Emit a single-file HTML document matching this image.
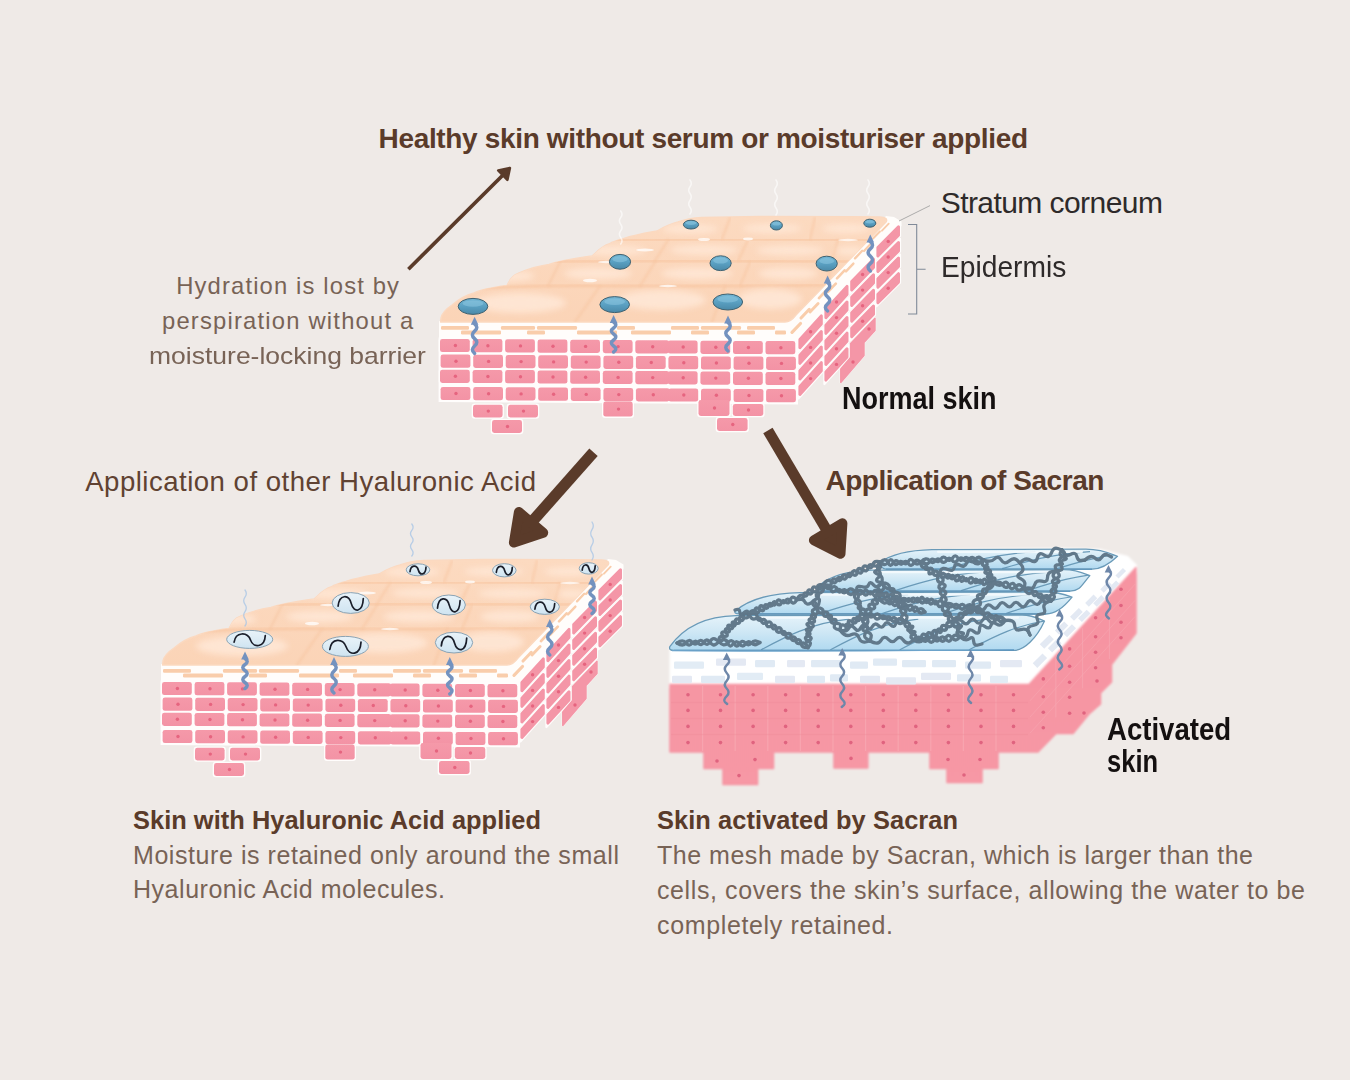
<!DOCTYPE html>
<html lang="en"><head><meta charset="utf-8"><title>Sacran skin diagram</title>
<style>
html,body{margin:0;padding:0;background:#efeae7;}
body{width:1350px;height:1080px;position:relative;overflow:hidden;font-family:"Liberation Sans",sans-serif;}
.t{position:absolute;white-space:nowrap;line-height:1;margin:0;transform-origin:0 0;}
</style></head><body>
<svg width="1350" height="1080" viewBox="0 0 1350 1080" style="position:absolute;left:0;top:0">
<defs>
<filter id="blur2" x="-20%" y="-50%" width="140%" height="200%"><feGaussianBlur stdDeviation="3"/></filter>
<filter id="blur1"><feGaussianBlur stdDeviation="0.8"/></filter>
<linearGradient id="peachA" x1="0" y1="0" x2="0" y2="1"><stop offset="0" stop-color="#fcdac0"/><stop offset="1" stop-color="#fbd4b7"/></linearGradient>
<linearGradient id="peachB" x1="0" y1="0" x2="0" y2="1"><stop offset="0" stop-color="#fcdac0"/><stop offset="1" stop-color="#fbd4b7"/></linearGradient>
<linearGradient id="pinkg" x1="0" y1="0" x2="0" y2="1"><stop offset="0" stop-color="#f599a9"/><stop offset="1" stop-color="#f393a5"/></linearGradient>
<linearGradient id="hag" x1="0" y1="0" x2="0" y2="1"><stop offset="0" stop-color="#e9f3f9"/><stop offset="1" stop-color="#cfe4f1"/></linearGradient>
<linearGradient id="drop" x1="0" y1="0" x2="0" y2="1"><stop offset="0" stop-color="#74b7d5"/><stop offset="0.5" stop-color="#5aa0c2"/><stop offset="1" stop-color="#4a89a8"/></linearGradient>
</defs>
<rect width="1350" height="1080" fill="#efeae7"/>
<g transform="translate(0 0)">
<path d="M439 321 L790 321 L886 216 L894 217 L901.5 221.5 L901.5 226 L798 341 L439 341 Z" fill="#fffdfb"/>
<path d="M440.5 322 L441 318 C442 313 446 309 452 305 C458 300 466 295 474 293 C482 289 496 287 507 285.5 C510 279 513 275 518 273.5 C528 269 538 266 549 264.5 C562 260 578 258 592 256 C598 251 602 246 609 244 C614 241 618 240 624 238.5 C634 235 646 233 657 231 C664 227 670 224 678 222 C686 219 694 218 702 217.5 L760 216.5 L850 216.6 L880 217 C885 217 888 219 886 222 L796 315 C793 319 790 322 785 322 Z" fill="url(#peachA)" stroke="#fbd9c0" stroke-width="1.4" stroke-linejoin="round"/>
<clipPath id="clipA"><path d="M440.5 322 L441 318 C442 313 446 309 452 305 C458 300 466 295 474 293 C482 289 496 287 507 285.5 C510 279 513 275 518 273.5 C528 269 538 266 549 264.5 C562 260 578 258 592 256 C598 251 602 246 609 244 C614 241 618 240 624 238.5 C634 235 646 233 657 231 C664 227 670 224 678 222 C686 219 694 218 702 217.5 L760 216.5 L850 216.6 L880 217 C885 217 888 219 886 222 L796 315 C793 319 790 322 785 322 Z"/></clipPath>
<g clip-path="url(#clipA)">
<path d="M440 290 C500 286 560 285.5 620 286 C700 286.5 760 286 830 285" fill="none" stroke="#f8c6a2" stroke-width="3" opacity="0.75" stroke-linecap="round" filter="url(#blur1)"/>
<path d="M520 262 C600 260.5 700 260.5 780 261 C820 261 850 261.5 870 261.5" fill="none" stroke="#f8c6a2" stroke-width="3" opacity="0.75" stroke-linecap="round" filter="url(#blur1)"/>
<path d="M610 240 C700 239 780 239 880 240" fill="none" stroke="#f8c6a2" stroke-width="3" opacity="0.75" stroke-linecap="round" filter="url(#blur1)"/>
<path d="M600 286 L575 322" fill="none" stroke="#f8c6a2" stroke-width="2.4" opacity="0.55" stroke-linecap="round" filter="url(#blur1)"/>
<path d="M725 286 L712 322" fill="none" stroke="#f8c6a2" stroke-width="2.4" opacity="0.55" stroke-linecap="round" filter="url(#blur1)"/>
<path d="M560 262 L548 286" fill="none" stroke="#f8c6a2" stroke-width="2.4" opacity="0.55" stroke-linecap="round" filter="url(#blur1)"/>
<path d="M655 262 L640 286" fill="none" stroke="#f8c6a2" stroke-width="2.4" opacity="0.55" stroke-linecap="round" filter="url(#blur1)"/>
<path d="M750 262 L740 286" fill="none" stroke="#f8c6a2" stroke-width="2.4" opacity="0.55" stroke-linecap="round" filter="url(#blur1)"/>
<path d="M832 262 L826 286" fill="none" stroke="#f8c6a2" stroke-width="2.4" opacity="0.55" stroke-linecap="round" filter="url(#blur1)"/>
<path d="M668 240 L655 261" fill="none" stroke="#f8c6a2" stroke-width="2.4" opacity="0.55" stroke-linecap="round" filter="url(#blur1)"/>
<path d="M748 240 L738 261" fill="none" stroke="#f8c6a2" stroke-width="2.4" opacity="0.55" stroke-linecap="round" filter="url(#blur1)"/>
<path d="M838 240 L832 261" fill="none" stroke="#f8c6a2" stroke-width="2.4" opacity="0.55" stroke-linecap="round" filter="url(#blur1)"/>
<path d="M730 218 L722 239" fill="none" stroke="#f8c6a2" stroke-width="2.4" opacity="0.55" stroke-linecap="round" filter="url(#blur1)"/>
<path d="M815 218 L810 239" fill="none" stroke="#f8c6a2" stroke-width="2.4" opacity="0.55" stroke-linecap="round" filter="url(#blur1)"/>
<ellipse cx="520" cy="303" rx="46" ry="10" fill="#fee6d4" opacity="0.95" filter="url(#blur2)"/>
<ellipse cx="662" cy="300" rx="44" ry="10" fill="#fee6d4" opacity="0.95" filter="url(#blur2)"/>
<ellipse cx="770" cy="299" rx="32" ry="10" fill="#fee6d4" opacity="0.95" filter="url(#blur2)"/>
<ellipse cx="505" cy="276" rx="30" ry="5.5" fill="#fee6d4" opacity="0.95" filter="url(#blur2)"/>
<ellipse cx="598" cy="273.5" rx="34" ry="6" fill="#fee6d4" opacity="0.95" filter="url(#blur2)"/>
<ellipse cx="697" cy="273.5" rx="36" ry="6" fill="#fee6d4" opacity="0.95" filter="url(#blur2)"/>
<ellipse cx="788" cy="273.5" rx="30" ry="6" fill="#fee6d4" opacity="0.95" filter="url(#blur2)"/>
<ellipse cx="612" cy="250.5" rx="34" ry="5" fill="#fee6d4" opacity="0.95" filter="url(#blur2)"/>
<ellipse cx="704" cy="250" rx="34" ry="5" fill="#fee6d4" opacity="0.95" filter="url(#blur2)"/>
<ellipse cx="790" cy="250.5" rx="34" ry="5" fill="#fee6d4" opacity="0.95" filter="url(#blur2)"/>
<ellipse cx="850" cy="251" rx="14" ry="4.5" fill="#fee6d4" opacity="0.95" filter="url(#blur2)"/>
<ellipse cx="690" cy="229" rx="28" ry="4.6" fill="#fee6d4" opacity="0.95" filter="url(#blur2)"/>
<ellipse cx="772" cy="228.5" rx="30" ry="4.6" fill="#fee6d4" opacity="0.95" filter="url(#blur2)"/>
<ellipse cx="846" cy="228.5" rx="24" ry="4.6" fill="#fee6d4" opacity="0.95" filter="url(#blur2)"/>
<ellipse cx="590" cy="280.5" rx="7" ry="1.7" fill="#fff" opacity="0.75"/>
<ellipse cx="645" cy="250" rx="9" ry="1.5" fill="#fff" opacity="0.75"/>
<ellipse cx="704" cy="239.5" rx="6" ry="1.6" fill="#fff" opacity="0.75"/>
<ellipse cx="748" cy="239" rx="5" ry="1.4" fill="#fff" opacity="0.75"/>
<ellipse cx="668" cy="286" rx="9" ry="1.2" fill="#fff" opacity="0.75"/>
<ellipse cx="848" cy="240" rx="10" ry="1.2" fill="#fff" opacity="0.75"/>
<ellipse cx="606" cy="262" rx="8" ry="1.2" fill="#fff" opacity="0.75"/>
</g>
<rect x="441" y="326" width="28" height="3.8" rx="1.2" fill="#f9cdab" />
<rect x="461" y="330.6" width="40" height="3.8" rx="1.2" fill="#f9cdab" />
<rect x="501" y="326" width="34" height="3.8" rx="1.2" fill="#f9cdab" />
<rect x="527" y="330.6" width="18" height="3.8" rx="1.2" fill="#f9cdab" />
<rect x="537" y="326" width="40" height="3.8" rx="1.2" fill="#f9cdab" />
<rect x="577" y="330.6" width="40" height="3.8" rx="1.2" fill="#f9cdab" />
<rect x="617" y="326" width="18" height="3.8" rx="1.2" fill="#f9cdab" />
<rect x="631" y="330.6" width="40" height="3.8" rx="1.2" fill="#f9cdab" />
<rect x="671" y="326" width="28" height="3.8" rx="1.2" fill="#f9cdab" />
<rect x="691" y="330.6" width="18" height="3.8" rx="1.2" fill="#f9cdab" />
<rect x="701" y="326" width="40" height="3.8" rx="1.2" fill="#f9cdab" />
<rect x="737" y="330.6" width="18" height="3.8" rx="1.2" fill="#f9cdab" />
<rect x="747" y="326" width="28" height="3.8" rx="1.2" fill="#f9cdab" />
<rect x="775" y="330.6" width="11" height="3.8" rx="1.2" fill="#f9cdab" />
<path d="M792 332.4 l8.5 -8.9" stroke="#f9cdab" stroke-width="3.2" stroke-linecap="round" fill="none"/>
<path d="M801 318 l8.3 -8.7" stroke="#f9cdab" stroke-width="3.1" stroke-linecap="round" fill="none"/>
<path d="M810 312 l8.1 -8.5" stroke="#f9cdab" stroke-width="2.9" stroke-linecap="round" fill="none"/>
<path d="M819 298.1 l7.9 -8.3" stroke="#f9cdab" stroke-width="2.8" stroke-linecap="round" fill="none"/>
<path d="M828 291.7 l7.8 -8.1" stroke="#f9cdab" stroke-width="2.7" stroke-linecap="round" fill="none"/>
<path d="M837 278.3 l7.6 -8" stroke="#f9cdab" stroke-width="2.6" stroke-linecap="round" fill="none"/>
<path d="M846 271.4 l7.4 -7.8" stroke="#f9cdab" stroke-width="2.4" stroke-linecap="round" fill="none"/>
<path d="M855 258.4 l7.2 -7.6" stroke="#f9cdab" stroke-width="2.3" stroke-linecap="round" fill="none"/>
<path d="M864 251 l7 -7.4" stroke="#f9cdab" stroke-width="2.2" stroke-linecap="round" fill="none"/>
<path d="M873 238.6 l6.9 -7.2" stroke="#f9cdab" stroke-width="2.1" stroke-linecap="round" fill="none"/>
<path d="M882 230.7 l6.7 -7" stroke="#f9cdab" stroke-width="1.9" stroke-linecap="round" fill="none"/>
</g>
<path d="M438.6 337.4 L798 339.6 L798 404.4 L438.6 402 Z" fill="#fffdfc"/>
<rect x="438.7" y="337.6" width="32.4" height="15.8" rx="3" fill="#fffdfc" />
<rect x="471.2" y="337.8" width="32.4" height="15.8" rx="3" fill="#fffdfc" />
<rect x="503.8" y="338" width="32.4" height="15.8" rx="3" fill="#fffdfc" />
<rect x="536.4" y="338.3" width="32.4" height="15.8" rx="3" fill="#fffdfc" />
<rect x="568.9" y="338.5" width="32.4" height="15.8" rx="3" fill="#fffdfc" />
<rect x="601.5" y="338.7" width="32.4" height="15.8" rx="3" fill="#fffdfc" />
<rect x="634" y="338.9" width="36.4" height="15.8" rx="3" fill="#fffdfc" />
<rect x="666.5" y="339.1" width="32.4" height="15.8" rx="3" fill="#fffdfc" />
<rect x="699.1" y="339.4" width="32.4" height="15.8" rx="3" fill="#fffdfc" />
<rect x="731.7" y="339.6" width="32.4" height="15.8" rx="3" fill="#fffdfc" />
<rect x="764.2" y="339.8" width="32.4" height="15.8" rx="3" fill="#fffdfc" />
<rect x="439.3" y="353.3" width="32.4" height="15.8" rx="3" fill="#fffdfc" />
<rect x="471.9" y="353.5" width="32.4" height="15.8" rx="3" fill="#fffdfc" />
<rect x="504.4" y="353.7" width="32.4" height="15.8" rx="3" fill="#fffdfc" />
<rect x="537" y="354" width="32.4" height="15.8" rx="3" fill="#fffdfc" />
<rect x="569.5" y="354.2" width="32.4" height="15.8" rx="3" fill="#fffdfc" />
<rect x="602.1" y="354.4" width="32.4" height="15.8" rx="3" fill="#fffdfc" />
<rect x="634.6" y="354.6" width="32.4" height="15.8" rx="3" fill="#fffdfc" />
<rect x="667.1" y="354.8" width="32.4" height="15.8" rx="3" fill="#fffdfc" />
<rect x="699.7" y="355.1" width="32.4" height="15.8" rx="3" fill="#fffdfc" />
<rect x="732.3" y="355.3" width="32.4" height="15.8" rx="3" fill="#fffdfc" />
<rect x="764.8" y="355.5" width="32.4" height="15.8" rx="3" fill="#fffdfc" />
<rect x="438.7" y="368.4" width="32.4" height="15.8" rx="3" fill="#fffdfc" />
<rect x="471.2" y="368.6" width="32.4" height="15.8" rx="3" fill="#fffdfc" />
<rect x="503.8" y="368.8" width="32.4" height="15.8" rx="3" fill="#fffdfc" />
<rect x="536.4" y="369.1" width="32.4" height="15.8" rx="3" fill="#fffdfc" />
<rect x="568.9" y="369.3" width="32.4" height="15.8" rx="3" fill="#fffdfc" />
<rect x="601.5" y="369.5" width="32.4" height="15.8" rx="3" fill="#fffdfc" />
<rect x="634" y="369.7" width="36.4" height="15.8" rx="3" fill="#fffdfc" />
<rect x="666.5" y="369.9" width="32.4" height="15.8" rx="3" fill="#fffdfc" />
<rect x="699.1" y="370.2" width="32.4" height="15.8" rx="3" fill="#fffdfc" />
<rect x="731.7" y="370.4" width="32.4" height="15.8" rx="3" fill="#fffdfc" />
<rect x="764.2" y="370.6" width="32.4" height="15.8" rx="3" fill="#fffdfc" />
<rect x="439.3" y="385.6" width="32.4" height="15.8" rx="3" fill="#fffdfc" />
<rect x="471.9" y="385.8" width="32.4" height="15.8" rx="3" fill="#fffdfc" />
<rect x="504.4" y="386" width="32.4" height="15.8" rx="3" fill="#fffdfc" />
<rect x="537" y="386.3" width="32.4" height="15.8" rx="3" fill="#fffdfc" />
<rect x="569.5" y="386.5" width="32.4" height="15.8" rx="3" fill="#fffdfc" />
<rect x="602.1" y="386.7" width="32.4" height="15.8" rx="3" fill="#fffdfc" />
<rect x="634.6" y="386.9" width="36.4" height="15.8" rx="3" fill="#fffdfc" />
<rect x="667.1" y="387.1" width="32.4" height="15.8" rx="3" fill="#fffdfc" />
<rect x="699.7" y="387.4" width="32.4" height="15.8" rx="3" fill="#fffdfc" />
<rect x="732.3" y="387.6" width="32.4" height="15.8" rx="3" fill="#fffdfc" />
<rect x="764.8" y="387.8" width="32.4" height="15.8" rx="3" fill="#fffdfc" />
<rect x="471.7" y="403.5" width="32.2" height="15.2" rx="3" fill="#fffdfc" />
<rect x="506.7" y="403.5" width="32.6" height="15.2" rx="3" fill="#fffdfc" />
<rect x="490.7" y="418.7" width="32.6" height="15.6" rx="3" fill="#fffdfc" />
<rect x="602" y="400.3" width="32" height="17.6" rx="3" fill="#fffdfc" />
<rect x="697.2" y="398.7" width="33.6" height="18.6" rx="3" fill="#fffdfc" />
<rect x="731.5" y="402.7" width="33.1" height="14.6" rx="3" fill="#fffdfc" />
<rect x="715.7" y="416.7" width="33.2" height="15.6" rx="3" fill="#fffdfc" />
<rect x="440" y="338.9" width="29.8" height="13.2" rx="2.4" fill="url(#pinkg)" />
<circle cx="455.4" cy="345.5" r="1.7" fill="#e6647f"/>
<rect x="472.6" y="339.1" width="29.8" height="13.2" rx="2.4" fill="url(#pinkg)" />
<circle cx="487.9" cy="345.7" r="1.7" fill="#e6647f"/>
<rect x="505.1" y="339.3" width="29.8" height="13.2" rx="2.4" fill="url(#pinkg)" />
<circle cx="520.5" cy="345.9" r="1.7" fill="#e6647f"/>
<rect x="537.6" y="339.6" width="29.8" height="13.2" rx="2.4" fill="url(#pinkg)" />
<circle cx="553" cy="346.2" r="1.7" fill="#e6647f"/>
<rect x="570.2" y="339.8" width="29.8" height="13.2" rx="2.4" fill="url(#pinkg)" />
<circle cx="585.6" cy="346.4" r="1.7" fill="#e6647f"/>
<rect x="602.8" y="340" width="29.8" height="13.2" rx="2.4" fill="url(#pinkg)" />
<circle cx="618.1" cy="346.6" r="1.7" fill="#e6647f"/>
<rect x="635.3" y="340.2" width="33.8" height="13.2" rx="2.4" fill="url(#pinkg)" />
<circle cx="652.7" cy="346.8" r="1.7" fill="#e6647f"/>
<rect x="667.8" y="340.4" width="29.8" height="13.2" rx="2.4" fill="url(#pinkg)" />
<circle cx="683.2" cy="347" r="1.7" fill="#e6647f"/>
<rect x="700.4" y="340.7" width="29.8" height="13.2" rx="2.4" fill="url(#pinkg)" />
<circle cx="715.8" cy="347.3" r="1.7" fill="#e6647f"/>
<rect x="733" y="340.9" width="29.8" height="13.2" rx="2.4" fill="url(#pinkg)" />
<circle cx="748.4" cy="347.5" r="1.7" fill="#e6647f"/>
<rect x="765.5" y="341.1" width="29.8" height="13.2" rx="2.4" fill="url(#pinkg)" />
<circle cx="780.9" cy="347.7" r="1.7" fill="#e6647f"/>
<rect x="440.6" y="354.6" width="29.8" height="13.2" rx="2.4" fill="url(#pinkg)" />
<circle cx="456" cy="361.2" r="1.7" fill="#e6647f"/>
<rect x="473.2" y="354.8" width="29.8" height="13.2" rx="2.4" fill="url(#pinkg)" />
<circle cx="488.6" cy="361.4" r="1.7" fill="#e6647f"/>
<rect x="505.7" y="355" width="29.8" height="13.2" rx="2.4" fill="url(#pinkg)" />
<circle cx="521.1" cy="361.6" r="1.7" fill="#e6647f"/>
<rect x="538.2" y="355.3" width="29.8" height="13.2" rx="2.4" fill="url(#pinkg)" />
<circle cx="553.6" cy="361.9" r="1.7" fill="#e6647f"/>
<rect x="570.8" y="355.5" width="29.8" height="13.2" rx="2.4" fill="url(#pinkg)" />
<circle cx="586.2" cy="362.1" r="1.7" fill="#e6647f"/>
<rect x="603.4" y="355.7" width="29.8" height="13.2" rx="2.4" fill="url(#pinkg)" />
<circle cx="618.8" cy="362.3" r="1.7" fill="#e6647f"/>
<rect x="635.9" y="355.9" width="29.8" height="13.2" rx="2.4" fill="url(#pinkg)" />
<circle cx="651.3" cy="362.5" r="1.7" fill="#e6647f"/>
<rect x="668.4" y="356.1" width="29.8" height="13.2" rx="2.4" fill="url(#pinkg)" />
<circle cx="683.8" cy="362.7" r="1.7" fill="#e6647f"/>
<rect x="701" y="356.4" width="29.8" height="13.2" rx="2.4" fill="url(#pinkg)" />
<circle cx="716.4" cy="363" r="1.7" fill="#e6647f"/>
<rect x="733.6" y="356.6" width="29.8" height="13.2" rx="2.4" fill="url(#pinkg)" />
<circle cx="749" cy="363.2" r="1.7" fill="#e6647f"/>
<rect x="766.1" y="356.8" width="29.8" height="13.2" rx="2.4" fill="url(#pinkg)" />
<circle cx="781.5" cy="363.4" r="1.7" fill="#e6647f"/>
<rect x="440" y="369.7" width="29.8" height="13.2" rx="2.4" fill="url(#pinkg)" />
<circle cx="455.4" cy="376.3" r="1.7" fill="#e6647f"/>
<rect x="472.6" y="369.9" width="29.8" height="13.2" rx="2.4" fill="url(#pinkg)" />
<circle cx="487.9" cy="376.5" r="1.7" fill="#e6647f"/>
<rect x="505.1" y="370.1" width="29.8" height="13.2" rx="2.4" fill="url(#pinkg)" />
<circle cx="520.5" cy="376.7" r="1.7" fill="#e6647f"/>
<rect x="537.6" y="370.4" width="29.8" height="13.2" rx="2.4" fill="url(#pinkg)" />
<circle cx="553" cy="377" r="1.7" fill="#e6647f"/>
<rect x="570.2" y="370.6" width="29.8" height="13.2" rx="2.4" fill="url(#pinkg)" />
<circle cx="585.6" cy="377.2" r="1.7" fill="#e6647f"/>
<rect x="602.8" y="370.8" width="29.8" height="13.2" rx="2.4" fill="url(#pinkg)" />
<circle cx="618.1" cy="377.4" r="1.7" fill="#e6647f"/>
<rect x="635.3" y="371" width="33.8" height="13.2" rx="2.4" fill="url(#pinkg)" />
<circle cx="652.7" cy="377.6" r="1.7" fill="#e6647f"/>
<rect x="667.8" y="371.2" width="29.8" height="13.2" rx="2.4" fill="url(#pinkg)" />
<circle cx="683.2" cy="377.8" r="1.7" fill="#e6647f"/>
<rect x="700.4" y="371.5" width="29.8" height="13.2" rx="2.4" fill="url(#pinkg)" />
<circle cx="715.8" cy="378.1" r="1.7" fill="#e6647f"/>
<rect x="733" y="371.7" width="29.8" height="13.2" rx="2.4" fill="url(#pinkg)" />
<circle cx="748.4" cy="378.3" r="1.7" fill="#e6647f"/>
<rect x="765.5" y="371.9" width="29.8" height="13.2" rx="2.4" fill="url(#pinkg)" />
<circle cx="780.9" cy="378.5" r="1.7" fill="#e6647f"/>
<rect x="440.6" y="386.9" width="29.8" height="13.2" rx="2.4" fill="url(#pinkg)" />
<circle cx="456" cy="393.5" r="1.7" fill="#e6647f"/>
<rect x="473.2" y="387.1" width="29.8" height="13.2" rx="2.4" fill="url(#pinkg)" />
<circle cx="488.6" cy="393.7" r="1.7" fill="#e6647f"/>
<rect x="505.7" y="387.3" width="29.8" height="13.2" rx="2.4" fill="url(#pinkg)" />
<circle cx="521.1" cy="393.9" r="1.7" fill="#e6647f"/>
<rect x="538.2" y="387.6" width="29.8" height="13.2" rx="2.4" fill="url(#pinkg)" />
<circle cx="553.6" cy="394.2" r="1.7" fill="#e6647f"/>
<rect x="570.8" y="387.8" width="29.8" height="13.2" rx="2.4" fill="url(#pinkg)" />
<circle cx="586.2" cy="394.4" r="1.7" fill="#e6647f"/>
<rect x="603.4" y="388" width="29.8" height="13.2" rx="2.4" fill="url(#pinkg)" />
<circle cx="618.8" cy="394.6" r="1.7" fill="#e6647f"/>
<rect x="635.9" y="388.2" width="33.8" height="13.2" rx="2.4" fill="url(#pinkg)" />
<circle cx="653.3" cy="394.8" r="1.7" fill="#e6647f"/>
<rect x="668.4" y="388.4" width="29.8" height="13.2" rx="2.4" fill="url(#pinkg)" />
<circle cx="683.8" cy="395" r="1.7" fill="#e6647f"/>
<rect x="701" y="388.7" width="29.8" height="13.2" rx="2.4" fill="url(#pinkg)" />
<circle cx="716.4" cy="395.3" r="1.7" fill="#e6647f"/>
<rect x="733.6" y="388.9" width="29.8" height="13.2" rx="2.4" fill="url(#pinkg)" />
<circle cx="749" cy="395.5" r="1.7" fill="#e6647f"/>
<rect x="766.1" y="389.1" width="29.8" height="13.2" rx="2.4" fill="url(#pinkg)" />
<circle cx="781.5" cy="395.7" r="1.7" fill="#e6647f"/>
<rect x="473" y="404.8" width="29.6" height="12.6" rx="2.4" fill="url(#pinkg)" />
<circle cx="488.3" cy="411.1" r="1.7" fill="#e6647f"/>
<rect x="508" y="404.8" width="30" height="12.6" rx="2.4" fill="url(#pinkg)" />
<circle cx="523.5" cy="411.1" r="1.7" fill="#e6647f"/>
<rect x="492" y="420" width="30" height="13" rx="2.4" fill="url(#pinkg)" />
<circle cx="507.5" cy="426.5" r="1.7" fill="#e6647f"/>
<rect x="603.3" y="401.6" width="29.4" height="15" rx="2.4" fill="url(#pinkg)" />
<circle cx="618.5" cy="409.1" r="1.7" fill="#e6647f"/>
<rect x="698.5" y="400" width="31" height="16" rx="2.4" fill="url(#pinkg)" />
<circle cx="714.5" cy="408" r="1.7" fill="#e6647f"/>
<rect x="732.8" y="404" width="30.5" height="12" rx="2.4" fill="url(#pinkg)" />
<circle cx="748.5" cy="410" r="1.7" fill="#e6647f"/>
<rect x="717" y="418" width="30.6" height="13" rx="2.4" fill="url(#pinkg)" />
<circle cx="732.8" cy="424.5" r="1.7" fill="#e6647f"/>
<path d="M798.4 339 L822.8 312 L822.8 324.6 L798.4 351.6Z" fill="#fffdfc" stroke="#fffdfc" stroke-width="2.2" stroke-linejoin="round"/>
<path d="M798.4 354.6 L822.8 327.6 L822.8 340.2 L798.4 367.2Z" fill="#fffdfc" stroke="#fffdfc" stroke-width="2.2" stroke-linejoin="round"/>
<path d="M798.4 370.2 L822.8 343.2 L822.8 355.8 L798.4 382.8Z" fill="#fffdfc" stroke="#fffdfc" stroke-width="2.2" stroke-linejoin="round"/>
<path d="M798.4 385.8 L822.8 358.8 L822.8 371.4 L798.4 398.4Z" fill="#fffdfc" stroke="#fffdfc" stroke-width="2.2" stroke-linejoin="round"/>
<path d="M824.4 309 L848.5 282.5 L848.5 295.1 L824.4 321.6Z" fill="#fffdfc" stroke="#fffdfc" stroke-width="2.2" stroke-linejoin="round"/>
<path d="M824.4 324.6 L848.5 298.1 L848.5 310.7 L824.4 337.2Z" fill="#fffdfc" stroke="#fffdfc" stroke-width="2.2" stroke-linejoin="round"/>
<path d="M824.4 340.2 L848.5 313.7 L848.5 326.3 L824.4 352.8Z" fill="#fffdfc" stroke="#fffdfc" stroke-width="2.2" stroke-linejoin="round"/>
<path d="M824.4 355.8 L848.5 329.3 L848.5 341.9 L824.4 368.4Z" fill="#fffdfc" stroke="#fffdfc" stroke-width="2.2" stroke-linejoin="round"/>
<path d="M824.4 371.4 L848.5 344.9 L848.5 357.5 L824.4 384Z" fill="#fffdfc" stroke="#fffdfc" stroke-width="2.2" stroke-linejoin="round"/>
<path d="M850.2 281 L875 255.5 L875 268.1 L850.2 293.6Z" fill="#fffdfc" stroke="#fffdfc" stroke-width="2.2" stroke-linejoin="round"/>
<path d="M850.2 296.6 L875 271.1 L875 283.7 L850.2 309.2Z" fill="#fffdfc" stroke="#fffdfc" stroke-width="2.2" stroke-linejoin="round"/>
<path d="M850.2 312.2 L875 286.7 L875 299.3 L850.2 324.8Z" fill="#fffdfc" stroke="#fffdfc" stroke-width="2.2" stroke-linejoin="round"/>
<path d="M850.2 327.8 L875 302.3 L875 314.9 L850.2 340.4Z" fill="#fffdfc" stroke="#fffdfc" stroke-width="2.2" stroke-linejoin="round"/>
<path d="M876.4 246.9 L900 223.3 L900 235.9 L876.4 259.5Z" fill="#fffdfc" stroke="#fffdfc" stroke-width="2.2" stroke-linejoin="round"/>
<path d="M876.4 262.5 L900 238.9 L900 251.5 L876.4 275.1Z" fill="#fffdfc" stroke="#fffdfc" stroke-width="2.2" stroke-linejoin="round"/>
<path d="M876.4 278.1 L900 254.5 L900 267.1 L876.4 290.7Z" fill="#fffdfc" stroke="#fffdfc" stroke-width="2.2" stroke-linejoin="round"/>
<path d="M876.4 293.7 L900 270.1 L900 282.7 L876.4 306.3Z" fill="#fffdfc" stroke="#fffdfc" stroke-width="2.2" stroke-linejoin="round"/>
<path d="M850.6 343.4 L875 318.2 L875 330.6 L864 342.6 L864 355.6 L840.8 382.4 L840.8 369 L850.6 357.6Z" fill="#fffdfc" stroke="#fffdfc" stroke-width="2.2" stroke-linejoin="round"/>
<path d="M799.9 339.6 L821.3 315.9 L821.3 324 L799.9 347.7Z" fill="#f496a7" stroke="#f496a7" stroke-width="3" stroke-linejoin="round"/>
<circle cx="810.6" cy="331.8" r="1.7" fill="#e6647f"/>
<path d="M799.9 355.2 L821.3 331.5 L821.3 339.6 L799.9 363.3Z" fill="#f496a7" stroke="#f496a7" stroke-width="3" stroke-linejoin="round"/>
<circle cx="810.6" cy="347.4" r="1.7" fill="#e6647f"/>
<path d="M799.9 370.8 L821.3 347.1 L821.3 355.2 L799.9 378.9Z" fill="#f496a7" stroke="#f496a7" stroke-width="3" stroke-linejoin="round"/>
<circle cx="810.6" cy="363" r="1.7" fill="#e6647f"/>
<path d="M799.9 386.4 L821.3 362.7 L821.3 370.8 L799.9 394.5Z" fill="#f496a7" stroke="#f496a7" stroke-width="3" stroke-linejoin="round"/>
<circle cx="810.6" cy="378.6" r="1.7" fill="#e6647f"/>
<path d="M825.9 309.6 L847 286.4 L847 294.5 L825.9 317.7Z" fill="#f496a7" stroke="#f496a7" stroke-width="3" stroke-linejoin="round"/>
<circle cx="836.5" cy="302" r="1.7" fill="#e6647f"/>
<path d="M825.9 325.2 L847 302 L847 310.1 L825.9 333.3Z" fill="#f496a7" stroke="#f496a7" stroke-width="3" stroke-linejoin="round"/>
<circle cx="836.5" cy="317.6" r="1.7" fill="#e6647f"/>
<path d="M825.9 340.8 L847 317.6 L847 325.7 L825.9 348.9Z" fill="#f496a7" stroke="#f496a7" stroke-width="3" stroke-linejoin="round"/>
<circle cx="836.5" cy="333.2" r="1.7" fill="#e6647f"/>
<path d="M825.9 356.4 L847 333.2 L847 341.3 L825.9 364.5Z" fill="#f496a7" stroke="#f496a7" stroke-width="3" stroke-linejoin="round"/>
<circle cx="836.5" cy="348.8" r="1.7" fill="#e6647f"/>
<path d="M825.9 372 L847 348.8 L847 356.9 L825.9 380.1Z" fill="#f496a7" stroke="#f496a7" stroke-width="3" stroke-linejoin="round"/>
<circle cx="836.5" cy="364.4" r="1.7" fill="#e6647f"/>
<path d="M851.7 281.6 L873.5 259.2 L873.5 267.4 L851.7 289.9Z" fill="#f496a7" stroke="#f496a7" stroke-width="3" stroke-linejoin="round"/>
<circle cx="862.6" cy="274.5" r="1.7" fill="#e6647f"/>
<path d="M851.7 297.2 L873.5 274.8 L873.5 283 L851.7 305.5Z" fill="#f496a7" stroke="#f496a7" stroke-width="3" stroke-linejoin="round"/>
<circle cx="862.6" cy="290.1" r="1.7" fill="#e6647f"/>
<path d="M851.7 312.8 L873.5 290.4 L873.5 298.6 L851.7 321.1Z" fill="#f496a7" stroke="#f496a7" stroke-width="3" stroke-linejoin="round"/>
<circle cx="862.6" cy="305.7" r="1.7" fill="#e6647f"/>
<path d="M851.7 328.4 L873.5 306 L873.5 314.2 L851.7 336.7Z" fill="#f496a7" stroke="#f496a7" stroke-width="3" stroke-linejoin="round"/>
<circle cx="862.6" cy="321.3" r="1.7" fill="#e6647f"/>
<path d="M877.9 247.5 L898.5 226.9 L898.5 235.3 L877.9 255.9Z" fill="#f496a7" stroke="#f496a7" stroke-width="3" stroke-linejoin="round"/>
<circle cx="888.2" cy="241.4" r="1.7" fill="#e6647f"/>
<path d="M877.9 263.1 L898.5 242.5 L898.5 250.9 L877.9 271.5Z" fill="#f496a7" stroke="#f496a7" stroke-width="3" stroke-linejoin="round"/>
<circle cx="888.2" cy="257" r="1.7" fill="#e6647f"/>
<path d="M877.9 278.7 L898.5 258.1 L898.5 266.5 L877.9 287.1Z" fill="#f496a7" stroke="#f496a7" stroke-width="3" stroke-linejoin="round"/>
<circle cx="888.2" cy="272.6" r="1.7" fill="#e6647f"/>
<path d="M877.9 294.3 L898.5 273.7 L898.5 282.1 L877.9 302.7Z" fill="#f496a7" stroke="#f496a7" stroke-width="3" stroke-linejoin="round"/>
<circle cx="888.2" cy="288.2" r="1.7" fill="#e6647f"/>
<path d="M850.6 343.4 L875 318.2 L875 330.6 L864 342.6 L864 355.6 L840.8 382.4 L840.8 369 L850.6 357.6Z" fill="#f496a7" stroke="#f496a7" stroke-width="1.5" stroke-linejoin="round"/>
<circle cx="869" cy="329" r="1.7" fill="#e6647f"/>
<circle cx="853" cy="362" r="1.7" fill="#e6647f"/>
<ellipse cx="473" cy="306.4" rx="14.8" ry="8" fill="url(#drop)" stroke="#3f6170" stroke-width="1"/>
<ellipse cx="473" cy="303.6" rx="10.4" ry="3.2" fill="#8cc6e0" opacity="0.55"/>
<ellipse cx="614.7" cy="304.6" rx="14.8" ry="8" fill="url(#drop)" stroke="#3f6170" stroke-width="1"/>
<ellipse cx="614.7" cy="301.8" rx="10.4" ry="3.2" fill="#8cc6e0" opacity="0.55"/>
<ellipse cx="727.8" cy="302" rx="14.8" ry="8" fill="url(#drop)" stroke="#3f6170" stroke-width="1"/>
<ellipse cx="727.8" cy="299.2" rx="10.4" ry="3.2" fill="#8cc6e0" opacity="0.55"/>
<ellipse cx="620" cy="261.8" rx="10.6" ry="7.4" fill="url(#drop)" stroke="#3f6170" stroke-width="1"/>
<ellipse cx="620" cy="259.2" rx="7.4" ry="3" fill="#8cc6e0" opacity="0.55"/>
<ellipse cx="720.6" cy="263.2" rx="10.6" ry="7.4" fill="url(#drop)" stroke="#3f6170" stroke-width="1"/>
<ellipse cx="720.6" cy="260.6" rx="7.4" ry="3" fill="#8cc6e0" opacity="0.55"/>
<ellipse cx="826.7" cy="263.6" rx="10.6" ry="7.4" fill="url(#drop)" stroke="#3f6170" stroke-width="1"/>
<ellipse cx="826.7" cy="261" rx="7.4" ry="3" fill="#8cc6e0" opacity="0.55"/>
<ellipse cx="691" cy="224.6" rx="7.6" ry="4.4" fill="url(#drop)" stroke="#3f6170" stroke-width="1"/>
<ellipse cx="691" cy="223.1" rx="5.3" ry="1.8" fill="#8cc6e0" opacity="0.55"/>
<ellipse cx="776.4" cy="225.4" rx="6" ry="4.6" fill="url(#drop)" stroke="#3f6170" stroke-width="1"/>
<ellipse cx="776.4" cy="223.8" rx="4.2" ry="1.8" fill="#8cc6e0" opacity="0.55"/>
<ellipse cx="869.8" cy="223.2" rx="6" ry="4" fill="url(#drop)" stroke="#3f6170" stroke-width="1"/>
<ellipse cx="869.8" cy="221.8" rx="4.2" ry="1.6" fill="#8cc6e0" opacity="0.55"/>
<path d="M620.7 211 q2.6 3.3 0 6.6 q-2.6 3.3 0 6.6 q2.6 3.3 0 6.6 q-2.6 3.3 0 6.6 q2.6 3.3 0 6.6" fill="none" stroke="#ffffff" stroke-width="1.6" stroke-linecap="round" opacity="0.6"/>
<path d="M690 180 q2.6 3.4 0 6.8 q-2.6 3.4 0 6.8 q2.6 3.4 0 6.8 q-2.6 3.4 0 6.8 q2.6 3.4 0 6.8" fill="none" stroke="#ffffff" stroke-width="1.6" stroke-linecap="round" opacity="0.6"/>
<path d="M776 180 q2.6 3.5 0 7 q-2.6 3.5 0 7 q2.6 3.5 0 7 q-2.6 3.5 0 7 q2.6 3.5 0 7" fill="none" stroke="#ffffff" stroke-width="1.6" stroke-linecap="round" opacity="0.6"/>
<path d="M868 180 q2.6 3.4 0 6.8 q-2.6 3.4 0 6.8 q2.6 3.4 0 6.8 q-2.6 3.4 0 6.8 q2.6 3.4 0 6.8" fill="none" stroke="#ffffff" stroke-width="1.6" stroke-linecap="round" opacity="0.6"/>
<path d="M474.6 323.8 Q479 327.5 474.6 331.2 Q470.2 334.9 474.6 338.6 Q479 342.3 474.6 346 Q470.2 349.7 474.6 353.4" fill="none" stroke="#7392bf" stroke-width="3.5" stroke-linecap="round" opacity="1"/>
<path d="M474.6 316.8 L478.4 324.8 L470.8 324.8 Z" fill="#7392bf" opacity="1"/>
<path d="M613.6 322 Q618 325 613.6 328 Q609.2 331 613.6 334 Q618 337 613.6 340 Q609.2 343 613.6 346 Q618 349 613.6 352" fill="none" stroke="#7392bf" stroke-width="3.5" stroke-linecap="round" opacity="1"/>
<path d="M613.6 315 L617.4 323 L609.8 323 Z" fill="#7392bf" opacity="1"/>
<path d="M728 322.5 Q732.4 326.1 728 329.6 Q723.6 333.2 728 336.8 Q732.4 340.3 728 343.9 Q723.6 347.4 728 351" fill="none" stroke="#7392bf" stroke-width="3.5" stroke-linecap="round" opacity="1"/>
<path d="M728 315.5 L731.8 323.5 L724.2 323.5 Z" fill="#7392bf" opacity="1"/>
<path d="M827.6 282.5 Q832 286.1 827.6 289.6 Q823.2 293.2 827.6 296.8 Q832 300.3 827.6 303.9 Q823.2 307.4 827.6 311" fill="none" stroke="#7392bf" stroke-width="3.5" stroke-linecap="round" opacity="1"/>
<path d="M827.6 275.5 L831.4 283.5 L823.8 283.5 Z" fill="#7392bf" opacity="1"/>
<path d="M870.3 241.5 Q874.7 245.2 870.3 248.9 Q865.9 252.6 870.3 256.2 Q874.7 259.9 870.3 263.6 Q865.9 267.3 870.3 271" fill="none" stroke="#7392bf" stroke-width="3.5" stroke-linecap="round" opacity="1"/>
<path d="M870.3 234.5 L874.1 242.5 L866.5 242.5 Z" fill="#7392bf" opacity="1"/>
<g transform="translate(-278 343)">
<path d="M439 321 L790 321 L886 216 L894 217 L901.5 221.5 L901.5 226 L798 341 L439 341 Z" fill="#fffdfb"/>
<path d="M440.5 322 L441 318 C442 313 446 309 452 305 C458 300 466 295 474 293 C482 289 496 287 507 285.5 C510 279 513 275 518 273.5 C528 269 538 266 549 264.5 C562 260 578 258 592 256 C598 251 602 246 609 244 C614 241 618 240 624 238.5 C634 235 646 233 657 231 C664 227 670 224 678 222 C686 219 694 218 702 217.5 L760 216.5 L850 216.6 L880 217 C885 217 888 219 886 222 L796 315 C793 319 790 322 785 322 Z" fill="url(#peachB)" stroke="#fbd9c0" stroke-width="1.4" stroke-linejoin="round"/>
<clipPath id="clipB"><path d="M440.5 322 L441 318 C442 313 446 309 452 305 C458 300 466 295 474 293 C482 289 496 287 507 285.5 C510 279 513 275 518 273.5 C528 269 538 266 549 264.5 C562 260 578 258 592 256 C598 251 602 246 609 244 C614 241 618 240 624 238.5 C634 235 646 233 657 231 C664 227 670 224 678 222 C686 219 694 218 702 217.5 L760 216.5 L850 216.6 L880 217 C885 217 888 219 886 222 L796 315 C793 319 790 322 785 322 Z"/></clipPath>
<g clip-path="url(#clipB)">
<path d="M440 290 C500 286 560 285.5 620 286 C700 286.5 760 286 830 285" fill="none" stroke="#f8c6a2" stroke-width="3" opacity="0.75" stroke-linecap="round" filter="url(#blur1)"/>
<path d="M520 262 C600 260.5 700 260.5 780 261 C820 261 850 261.5 870 261.5" fill="none" stroke="#f8c6a2" stroke-width="3" opacity="0.75" stroke-linecap="round" filter="url(#blur1)"/>
<path d="M610 240 C700 239 780 239 880 240" fill="none" stroke="#f8c6a2" stroke-width="3" opacity="0.75" stroke-linecap="round" filter="url(#blur1)"/>
<path d="M600 286 L575 322" fill="none" stroke="#f8c6a2" stroke-width="2.4" opacity="0.55" stroke-linecap="round" filter="url(#blur1)"/>
<path d="M725 286 L712 322" fill="none" stroke="#f8c6a2" stroke-width="2.4" opacity="0.55" stroke-linecap="round" filter="url(#blur1)"/>
<path d="M560 262 L548 286" fill="none" stroke="#f8c6a2" stroke-width="2.4" opacity="0.55" stroke-linecap="round" filter="url(#blur1)"/>
<path d="M655 262 L640 286" fill="none" stroke="#f8c6a2" stroke-width="2.4" opacity="0.55" stroke-linecap="round" filter="url(#blur1)"/>
<path d="M750 262 L740 286" fill="none" stroke="#f8c6a2" stroke-width="2.4" opacity="0.55" stroke-linecap="round" filter="url(#blur1)"/>
<path d="M832 262 L826 286" fill="none" stroke="#f8c6a2" stroke-width="2.4" opacity="0.55" stroke-linecap="round" filter="url(#blur1)"/>
<path d="M668 240 L655 261" fill="none" stroke="#f8c6a2" stroke-width="2.4" opacity="0.55" stroke-linecap="round" filter="url(#blur1)"/>
<path d="M748 240 L738 261" fill="none" stroke="#f8c6a2" stroke-width="2.4" opacity="0.55" stroke-linecap="round" filter="url(#blur1)"/>
<path d="M838 240 L832 261" fill="none" stroke="#f8c6a2" stroke-width="2.4" opacity="0.55" stroke-linecap="round" filter="url(#blur1)"/>
<path d="M730 218 L722 239" fill="none" stroke="#f8c6a2" stroke-width="2.4" opacity="0.55" stroke-linecap="round" filter="url(#blur1)"/>
<path d="M815 218 L810 239" fill="none" stroke="#f8c6a2" stroke-width="2.4" opacity="0.55" stroke-linecap="round" filter="url(#blur1)"/>
<ellipse cx="520" cy="303" rx="46" ry="10" fill="#fee6d4" opacity="0.95" filter="url(#blur2)"/>
<ellipse cx="662" cy="300" rx="44" ry="10" fill="#fee6d4" opacity="0.95" filter="url(#blur2)"/>
<ellipse cx="770" cy="299" rx="32" ry="10" fill="#fee6d4" opacity="0.95" filter="url(#blur2)"/>
<ellipse cx="505" cy="276" rx="30" ry="5.5" fill="#fee6d4" opacity="0.95" filter="url(#blur2)"/>
<ellipse cx="598" cy="273.5" rx="34" ry="6" fill="#fee6d4" opacity="0.95" filter="url(#blur2)"/>
<ellipse cx="697" cy="273.5" rx="36" ry="6" fill="#fee6d4" opacity="0.95" filter="url(#blur2)"/>
<ellipse cx="788" cy="273.5" rx="30" ry="6" fill="#fee6d4" opacity="0.95" filter="url(#blur2)"/>
<ellipse cx="612" cy="250.5" rx="34" ry="5" fill="#fee6d4" opacity="0.95" filter="url(#blur2)"/>
<ellipse cx="704" cy="250" rx="34" ry="5" fill="#fee6d4" opacity="0.95" filter="url(#blur2)"/>
<ellipse cx="790" cy="250.5" rx="34" ry="5" fill="#fee6d4" opacity="0.95" filter="url(#blur2)"/>
<ellipse cx="850" cy="251" rx="14" ry="4.5" fill="#fee6d4" opacity="0.95" filter="url(#blur2)"/>
<ellipse cx="690" cy="229" rx="28" ry="4.6" fill="#fee6d4" opacity="0.95" filter="url(#blur2)"/>
<ellipse cx="772" cy="228.5" rx="30" ry="4.6" fill="#fee6d4" opacity="0.95" filter="url(#blur2)"/>
<ellipse cx="846" cy="228.5" rx="24" ry="4.6" fill="#fee6d4" opacity="0.95" filter="url(#blur2)"/>
<ellipse cx="590" cy="280.5" rx="7" ry="1.7" fill="#fff" opacity="0.75"/>
<ellipse cx="645" cy="250" rx="9" ry="1.5" fill="#fff" opacity="0.75"/>
<ellipse cx="704" cy="239.5" rx="6" ry="1.6" fill="#fff" opacity="0.75"/>
<ellipse cx="748" cy="239" rx="5" ry="1.4" fill="#fff" opacity="0.75"/>
<ellipse cx="668" cy="286" rx="9" ry="1.2" fill="#fff" opacity="0.75"/>
<ellipse cx="848" cy="240" rx="10" ry="1.2" fill="#fff" opacity="0.75"/>
<ellipse cx="606" cy="262" rx="8" ry="1.2" fill="#fff" opacity="0.75"/>
</g>
<rect x="441" y="326" width="28" height="3.8" rx="1.2" fill="#f9cdab" />
<rect x="461" y="330.6" width="40" height="3.8" rx="1.2" fill="#f9cdab" />
<rect x="501" y="326" width="34" height="3.8" rx="1.2" fill="#f9cdab" />
<rect x="527" y="330.6" width="18" height="3.8" rx="1.2" fill="#f9cdab" />
<rect x="537" y="326" width="40" height="3.8" rx="1.2" fill="#f9cdab" />
<rect x="577" y="330.6" width="40" height="3.8" rx="1.2" fill="#f9cdab" />
<rect x="617" y="326" width="18" height="3.8" rx="1.2" fill="#f9cdab" />
<rect x="631" y="330.6" width="40" height="3.8" rx="1.2" fill="#f9cdab" />
<rect x="671" y="326" width="28" height="3.8" rx="1.2" fill="#f9cdab" />
<rect x="691" y="330.6" width="18" height="3.8" rx="1.2" fill="#f9cdab" />
<rect x="701" y="326" width="40" height="3.8" rx="1.2" fill="#f9cdab" />
<rect x="737" y="330.6" width="18" height="3.8" rx="1.2" fill="#f9cdab" />
<rect x="747" y="326" width="28" height="3.8" rx="1.2" fill="#f9cdab" />
<rect x="775" y="330.6" width="11" height="3.8" rx="1.2" fill="#f9cdab" />
<path d="M792 332.4 l8.5 -8.9" stroke="#f9cdab" stroke-width="3.2" stroke-linecap="round" fill="none"/>
<path d="M801 318 l8.3 -8.7" stroke="#f9cdab" stroke-width="3.1" stroke-linecap="round" fill="none"/>
<path d="M810 312 l8.1 -8.5" stroke="#f9cdab" stroke-width="2.9" stroke-linecap="round" fill="none"/>
<path d="M819 298.1 l7.9 -8.3" stroke="#f9cdab" stroke-width="2.8" stroke-linecap="round" fill="none"/>
<path d="M828 291.7 l7.8 -8.1" stroke="#f9cdab" stroke-width="2.7" stroke-linecap="round" fill="none"/>
<path d="M837 278.3 l7.6 -8" stroke="#f9cdab" stroke-width="2.6" stroke-linecap="round" fill="none"/>
<path d="M846 271.4 l7.4 -7.8" stroke="#f9cdab" stroke-width="2.4" stroke-linecap="round" fill="none"/>
<path d="M855 258.4 l7.2 -7.6" stroke="#f9cdab" stroke-width="2.3" stroke-linecap="round" fill="none"/>
<path d="M864 251 l7 -7.4" stroke="#f9cdab" stroke-width="2.2" stroke-linecap="round" fill="none"/>
<path d="M873 238.6 l6.9 -7.2" stroke="#f9cdab" stroke-width="2.1" stroke-linecap="round" fill="none"/>
<path d="M882 230.7 l6.7 -7" stroke="#f9cdab" stroke-width="1.9" stroke-linecap="round" fill="none"/>
</g>
<path d="M160.6 680.4 L520 682.6 L520 747.4 L160.6 745 Z" fill="#fffdfc"/>
<rect x="160.7" y="680.6" width="32.4" height="15.8" rx="3" fill="#fffdfc" />
<rect x="193.2" y="680.8" width="32.4" height="15.8" rx="3" fill="#fffdfc" />
<rect x="225.8" y="681" width="32.4" height="15.8" rx="3" fill="#fffdfc" />
<rect x="258.3" y="681.3" width="32.4" height="15.8" rx="3" fill="#fffdfc" />
<rect x="290.9" y="681.5" width="32.4" height="15.8" rx="3" fill="#fffdfc" />
<rect x="323.4" y="681.7" width="32.4" height="15.8" rx="3" fill="#fffdfc" />
<rect x="356" y="681.9" width="36.4" height="15.8" rx="3" fill="#fffdfc" />
<rect x="388.5" y="682.1" width="32.4" height="15.8" rx="3" fill="#fffdfc" />
<rect x="421.1" y="682.4" width="32.4" height="15.8" rx="3" fill="#fffdfc" />
<rect x="453.7" y="682.6" width="32.4" height="15.8" rx="3" fill="#fffdfc" />
<rect x="486.2" y="682.8" width="32.4" height="15.8" rx="3" fill="#fffdfc" />
<rect x="161.3" y="696.3" width="32.4" height="15.8" rx="3" fill="#fffdfc" />
<rect x="193.9" y="696.5" width="32.4" height="15.8" rx="3" fill="#fffdfc" />
<rect x="226.4" y="696.7" width="32.4" height="15.8" rx="3" fill="#fffdfc" />
<rect x="258.9" y="697" width="32.4" height="15.8" rx="3" fill="#fffdfc" />
<rect x="291.5" y="697.2" width="32.4" height="15.8" rx="3" fill="#fffdfc" />
<rect x="324.1" y="697.4" width="32.4" height="15.8" rx="3" fill="#fffdfc" />
<rect x="356.6" y="697.6" width="32.4" height="15.8" rx="3" fill="#fffdfc" />
<rect x="389.1" y="697.8" width="32.4" height="15.8" rx="3" fill="#fffdfc" />
<rect x="421.7" y="698.1" width="32.4" height="15.8" rx="3" fill="#fffdfc" />
<rect x="454.3" y="698.3" width="32.4" height="15.8" rx="3" fill="#fffdfc" />
<rect x="486.8" y="698.5" width="32.4" height="15.8" rx="3" fill="#fffdfc" />
<rect x="160.7" y="711.4" width="32.4" height="15.8" rx="3" fill="#fffdfc" />
<rect x="193.2" y="711.6" width="32.4" height="15.8" rx="3" fill="#fffdfc" />
<rect x="225.8" y="711.8" width="32.4" height="15.8" rx="3" fill="#fffdfc" />
<rect x="258.3" y="712.1" width="32.4" height="15.8" rx="3" fill="#fffdfc" />
<rect x="290.9" y="712.3" width="32.4" height="15.8" rx="3" fill="#fffdfc" />
<rect x="323.4" y="712.5" width="32.4" height="15.8" rx="3" fill="#fffdfc" />
<rect x="356" y="712.7" width="36.4" height="15.8" rx="3" fill="#fffdfc" />
<rect x="388.5" y="712.9" width="32.4" height="15.8" rx="3" fill="#fffdfc" />
<rect x="421.1" y="713.2" width="32.4" height="15.8" rx="3" fill="#fffdfc" />
<rect x="453.7" y="713.4" width="32.4" height="15.8" rx="3" fill="#fffdfc" />
<rect x="486.2" y="713.6" width="32.4" height="15.8" rx="3" fill="#fffdfc" />
<rect x="161.3" y="728.6" width="32.4" height="15.8" rx="3" fill="#fffdfc" />
<rect x="193.9" y="728.8" width="32.4" height="15.8" rx="3" fill="#fffdfc" />
<rect x="226.4" y="729" width="32.4" height="15.8" rx="3" fill="#fffdfc" />
<rect x="258.9" y="729.3" width="32.4" height="15.8" rx="3" fill="#fffdfc" />
<rect x="291.5" y="729.5" width="32.4" height="15.8" rx="3" fill="#fffdfc" />
<rect x="324.1" y="729.7" width="32.4" height="15.8" rx="3" fill="#fffdfc" />
<rect x="356.6" y="729.9" width="36.4" height="15.8" rx="3" fill="#fffdfc" />
<rect x="389.1" y="730.1" width="32.4" height="15.8" rx="3" fill="#fffdfc" />
<rect x="421.7" y="730.4" width="32.4" height="15.8" rx="3" fill="#fffdfc" />
<rect x="454.3" y="730.6" width="32.4" height="15.8" rx="3" fill="#fffdfc" />
<rect x="486.8" y="730.8" width="32.4" height="15.8" rx="3" fill="#fffdfc" />
<rect x="193.7" y="746.5" width="32.2" height="15.2" rx="3" fill="#fffdfc" />
<rect x="228.7" y="746.5" width="32.6" height="15.2" rx="3" fill="#fffdfc" />
<rect x="212.7" y="761.7" width="32.6" height="15.6" rx="3" fill="#fffdfc" />
<rect x="324" y="743.3" width="32" height="17.6" rx="3" fill="#fffdfc" />
<rect x="419.2" y="741.7" width="33.6" height="18.6" rx="3" fill="#fffdfc" />
<rect x="453.5" y="745.7" width="33.1" height="14.6" rx="3" fill="#fffdfc" />
<rect x="437.7" y="759.7" width="33.2" height="15.6" rx="3" fill="#fffdfc" />
<rect x="162" y="681.9" width="29.8" height="13.2" rx="2.4" fill="url(#pinkg)" />
<circle cx="177.4" cy="688.5" r="1.7" fill="#e6647f"/>
<rect x="194.6" y="682.1" width="29.8" height="13.2" rx="2.4" fill="url(#pinkg)" />
<circle cx="210" cy="688.7" r="1.7" fill="#e6647f"/>
<rect x="227.1" y="682.3" width="29.8" height="13.2" rx="2.4" fill="url(#pinkg)" />
<circle cx="242.5" cy="688.9" r="1.7" fill="#e6647f"/>
<rect x="259.6" y="682.6" width="29.8" height="13.2" rx="2.4" fill="url(#pinkg)" />
<circle cx="275" cy="689.2" r="1.7" fill="#e6647f"/>
<rect x="292.2" y="682.8" width="29.8" height="13.2" rx="2.4" fill="url(#pinkg)" />
<circle cx="307.6" cy="689.4" r="1.7" fill="#e6647f"/>
<rect x="324.8" y="683" width="29.8" height="13.2" rx="2.4" fill="url(#pinkg)" />
<circle cx="340.1" cy="689.6" r="1.7" fill="#e6647f"/>
<rect x="357.3" y="683.2" width="33.8" height="13.2" rx="2.4" fill="url(#pinkg)" />
<circle cx="374.7" cy="689.8" r="1.7" fill="#e6647f"/>
<rect x="389.8" y="683.4" width="29.8" height="13.2" rx="2.4" fill="url(#pinkg)" />
<circle cx="405.2" cy="690" r="1.7" fill="#e6647f"/>
<rect x="422.4" y="683.7" width="29.8" height="13.2" rx="2.4" fill="url(#pinkg)" />
<circle cx="437.8" cy="690.3" r="1.7" fill="#e6647f"/>
<rect x="455" y="683.9" width="29.8" height="13.2" rx="2.4" fill="url(#pinkg)" />
<circle cx="470.4" cy="690.5" r="1.7" fill="#e6647f"/>
<rect x="487.5" y="684.1" width="29.8" height="13.2" rx="2.4" fill="url(#pinkg)" />
<circle cx="502.9" cy="690.7" r="1.7" fill="#e6647f"/>
<rect x="162.6" y="697.6" width="29.8" height="13.2" rx="2.4" fill="url(#pinkg)" />
<circle cx="178" cy="704.2" r="1.7" fill="#e6647f"/>
<rect x="195.2" y="697.8" width="29.8" height="13.2" rx="2.4" fill="url(#pinkg)" />
<circle cx="210.6" cy="704.4" r="1.7" fill="#e6647f"/>
<rect x="227.7" y="698" width="29.8" height="13.2" rx="2.4" fill="url(#pinkg)" />
<circle cx="243.1" cy="704.6" r="1.7" fill="#e6647f"/>
<rect x="260.2" y="698.3" width="29.8" height="13.2" rx="2.4" fill="url(#pinkg)" />
<circle cx="275.6" cy="704.9" r="1.7" fill="#e6647f"/>
<rect x="292.8" y="698.5" width="29.8" height="13.2" rx="2.4" fill="url(#pinkg)" />
<circle cx="308.2" cy="705.1" r="1.7" fill="#e6647f"/>
<rect x="325.4" y="698.7" width="29.8" height="13.2" rx="2.4" fill="url(#pinkg)" />
<circle cx="340.8" cy="705.3" r="1.7" fill="#e6647f"/>
<rect x="357.9" y="698.9" width="29.8" height="13.2" rx="2.4" fill="url(#pinkg)" />
<circle cx="373.3" cy="705.5" r="1.7" fill="#e6647f"/>
<rect x="390.4" y="699.1" width="29.8" height="13.2" rx="2.4" fill="url(#pinkg)" />
<circle cx="405.8" cy="705.7" r="1.7" fill="#e6647f"/>
<rect x="423" y="699.4" width="29.8" height="13.2" rx="2.4" fill="url(#pinkg)" />
<circle cx="438.4" cy="706" r="1.7" fill="#e6647f"/>
<rect x="455.6" y="699.6" width="29.8" height="13.2" rx="2.4" fill="url(#pinkg)" />
<circle cx="471" cy="706.2" r="1.7" fill="#e6647f"/>
<rect x="488.1" y="699.8" width="29.8" height="13.2" rx="2.4" fill="url(#pinkg)" />
<circle cx="503.5" cy="706.4" r="1.7" fill="#e6647f"/>
<rect x="162" y="712.7" width="29.8" height="13.2" rx="2.4" fill="url(#pinkg)" />
<circle cx="177.4" cy="719.3" r="1.7" fill="#e6647f"/>
<rect x="194.6" y="712.9" width="29.8" height="13.2" rx="2.4" fill="url(#pinkg)" />
<circle cx="210" cy="719.5" r="1.7" fill="#e6647f"/>
<rect x="227.1" y="713.1" width="29.8" height="13.2" rx="2.4" fill="url(#pinkg)" />
<circle cx="242.5" cy="719.7" r="1.7" fill="#e6647f"/>
<rect x="259.6" y="713.4" width="29.8" height="13.2" rx="2.4" fill="url(#pinkg)" />
<circle cx="275" cy="720" r="1.7" fill="#e6647f"/>
<rect x="292.2" y="713.6" width="29.8" height="13.2" rx="2.4" fill="url(#pinkg)" />
<circle cx="307.6" cy="720.2" r="1.7" fill="#e6647f"/>
<rect x="324.8" y="713.8" width="29.8" height="13.2" rx="2.4" fill="url(#pinkg)" />
<circle cx="340.1" cy="720.4" r="1.7" fill="#e6647f"/>
<rect x="357.3" y="714" width="33.8" height="13.2" rx="2.4" fill="url(#pinkg)" />
<circle cx="374.7" cy="720.6" r="1.7" fill="#e6647f"/>
<rect x="389.8" y="714.2" width="29.8" height="13.2" rx="2.4" fill="url(#pinkg)" />
<circle cx="405.2" cy="720.8" r="1.7" fill="#e6647f"/>
<rect x="422.4" y="714.5" width="29.8" height="13.2" rx="2.4" fill="url(#pinkg)" />
<circle cx="437.8" cy="721.1" r="1.7" fill="#e6647f"/>
<rect x="455" y="714.7" width="29.8" height="13.2" rx="2.4" fill="url(#pinkg)" />
<circle cx="470.4" cy="721.3" r="1.7" fill="#e6647f"/>
<rect x="487.5" y="714.9" width="29.8" height="13.2" rx="2.4" fill="url(#pinkg)" />
<circle cx="502.9" cy="721.5" r="1.7" fill="#e6647f"/>
<rect x="162.6" y="729.9" width="29.8" height="13.2" rx="2.4" fill="url(#pinkg)" />
<circle cx="178" cy="736.5" r="1.7" fill="#e6647f"/>
<rect x="195.2" y="730.1" width="29.8" height="13.2" rx="2.4" fill="url(#pinkg)" />
<circle cx="210.6" cy="736.7" r="1.7" fill="#e6647f"/>
<rect x="227.7" y="730.3" width="29.8" height="13.2" rx="2.4" fill="url(#pinkg)" />
<circle cx="243.1" cy="736.9" r="1.7" fill="#e6647f"/>
<rect x="260.2" y="730.6" width="29.8" height="13.2" rx="2.4" fill="url(#pinkg)" />
<circle cx="275.6" cy="737.2" r="1.7" fill="#e6647f"/>
<rect x="292.8" y="730.8" width="29.8" height="13.2" rx="2.4" fill="url(#pinkg)" />
<circle cx="308.2" cy="737.4" r="1.7" fill="#e6647f"/>
<rect x="325.4" y="731" width="29.8" height="13.2" rx="2.4" fill="url(#pinkg)" />
<circle cx="340.8" cy="737.6" r="1.7" fill="#e6647f"/>
<rect x="357.9" y="731.2" width="33.8" height="13.2" rx="2.4" fill="url(#pinkg)" />
<circle cx="375.3" cy="737.8" r="1.7" fill="#e6647f"/>
<rect x="390.4" y="731.4" width="29.8" height="13.2" rx="2.4" fill="url(#pinkg)" />
<circle cx="405.8" cy="738" r="1.7" fill="#e6647f"/>
<rect x="423" y="731.7" width="29.8" height="13.2" rx="2.4" fill="url(#pinkg)" />
<circle cx="438.4" cy="738.3" r="1.7" fill="#e6647f"/>
<rect x="455.6" y="731.9" width="29.8" height="13.2" rx="2.4" fill="url(#pinkg)" />
<circle cx="471" cy="738.5" r="1.7" fill="#e6647f"/>
<rect x="488.1" y="732.1" width="29.8" height="13.2" rx="2.4" fill="url(#pinkg)" />
<circle cx="503.5" cy="738.7" r="1.7" fill="#e6647f"/>
<rect x="195" y="747.8" width="29.6" height="12.6" rx="2.4" fill="url(#pinkg)" />
<circle cx="210.3" cy="754.1" r="1.7" fill="#e6647f"/>
<rect x="230" y="747.8" width="30" height="12.6" rx="2.4" fill="url(#pinkg)" />
<circle cx="245.5" cy="754.1" r="1.7" fill="#e6647f"/>
<rect x="214" y="763" width="30" height="13" rx="2.4" fill="url(#pinkg)" />
<circle cx="229.5" cy="769.5" r="1.7" fill="#e6647f"/>
<rect x="325.3" y="744.6" width="29.4" height="15" rx="2.4" fill="url(#pinkg)" />
<circle cx="340.5" cy="752.1" r="1.7" fill="#e6647f"/>
<rect x="420.5" y="743" width="31" height="16" rx="2.4" fill="url(#pinkg)" />
<circle cx="436.5" cy="751" r="1.7" fill="#e6647f"/>
<rect x="454.8" y="747" width="30.5" height="12" rx="2.4" fill="url(#pinkg)" />
<circle cx="470.5" cy="753" r="1.7" fill="#e6647f"/>
<rect x="439" y="761" width="30.6" height="13" rx="2.4" fill="url(#pinkg)" />
<circle cx="454.8" cy="767.5" r="1.7" fill="#e6647f"/>
<path d="M520.4 682 L544.8 655 L544.8 667.6 L520.4 694.6Z" fill="#fffdfc" stroke="#fffdfc" stroke-width="2.2" stroke-linejoin="round"/>
<path d="M520.4 697.6 L544.8 670.6 L544.8 683.2 L520.4 710.2Z" fill="#fffdfc" stroke="#fffdfc" stroke-width="2.2" stroke-linejoin="round"/>
<path d="M520.4 713.2 L544.8 686.2 L544.8 698.8 L520.4 725.8Z" fill="#fffdfc" stroke="#fffdfc" stroke-width="2.2" stroke-linejoin="round"/>
<path d="M520.4 728.8 L544.8 701.8 L544.8 714.4 L520.4 741.4Z" fill="#fffdfc" stroke="#fffdfc" stroke-width="2.2" stroke-linejoin="round"/>
<path d="M546.4 652 L570.5 625.5 L570.5 638.1 L546.4 664.6Z" fill="#fffdfc" stroke="#fffdfc" stroke-width="2.2" stroke-linejoin="round"/>
<path d="M546.4 667.6 L570.5 641.1 L570.5 653.7 L546.4 680.2Z" fill="#fffdfc" stroke="#fffdfc" stroke-width="2.2" stroke-linejoin="round"/>
<path d="M546.4 683.2 L570.5 656.7 L570.5 669.3 L546.4 695.8Z" fill="#fffdfc" stroke="#fffdfc" stroke-width="2.2" stroke-linejoin="round"/>
<path d="M546.4 698.8 L570.5 672.3 L570.5 684.9 L546.4 711.4Z" fill="#fffdfc" stroke="#fffdfc" stroke-width="2.2" stroke-linejoin="round"/>
<path d="M546.4 714.4 L570.5 687.9 L570.5 700.5 L546.4 727Z" fill="#fffdfc" stroke="#fffdfc" stroke-width="2.2" stroke-linejoin="round"/>
<path d="M572.2 624 L597 598.5 L597 611.1 L572.2 636.6Z" fill="#fffdfc" stroke="#fffdfc" stroke-width="2.2" stroke-linejoin="round"/>
<path d="M572.2 639.6 L597 614.1 L597 626.7 L572.2 652.2Z" fill="#fffdfc" stroke="#fffdfc" stroke-width="2.2" stroke-linejoin="round"/>
<path d="M572.2 655.2 L597 629.7 L597 642.3 L572.2 667.8Z" fill="#fffdfc" stroke="#fffdfc" stroke-width="2.2" stroke-linejoin="round"/>
<path d="M572.2 670.8 L597 645.3 L597 657.9 L572.2 683.4Z" fill="#fffdfc" stroke="#fffdfc" stroke-width="2.2" stroke-linejoin="round"/>
<path d="M598.4 589.9 L622 566.3 L622 578.9 L598.4 602.5Z" fill="#fffdfc" stroke="#fffdfc" stroke-width="2.2" stroke-linejoin="round"/>
<path d="M598.4 605.5 L622 581.9 L622 594.5 L598.4 618.1Z" fill="#fffdfc" stroke="#fffdfc" stroke-width="2.2" stroke-linejoin="round"/>
<path d="M598.4 621.1 L622 597.5 L622 610.1 L598.4 633.7Z" fill="#fffdfc" stroke="#fffdfc" stroke-width="2.2" stroke-linejoin="round"/>
<path d="M598.4 636.7 L622 613.1 L622 625.7 L598.4 649.3Z" fill="#fffdfc" stroke="#fffdfc" stroke-width="2.2" stroke-linejoin="round"/>
<path d="M572.6 686.4 L597 661.2 L597 673.6 L586 685.6 L586 698.6 L562.8 725.4 L562.8 712 L572.6 700.6Z" fill="#fffdfc" stroke="#fffdfc" stroke-width="2.2" stroke-linejoin="round"/>
<path d="M521.9 682.6 L543.3 658.9 L543.3 667 L521.9 690.7Z" fill="#f496a7" stroke="#f496a7" stroke-width="3" stroke-linejoin="round"/>
<circle cx="532.6" cy="674.8" r="1.7" fill="#e6647f"/>
<path d="M521.9 698.2 L543.3 674.5 L543.3 682.6 L521.9 706.3Z" fill="#f496a7" stroke="#f496a7" stroke-width="3" stroke-linejoin="round"/>
<circle cx="532.6" cy="690.4" r="1.7" fill="#e6647f"/>
<path d="M521.9 713.8 L543.3 690.1 L543.3 698.2 L521.9 721.9Z" fill="#f496a7" stroke="#f496a7" stroke-width="3" stroke-linejoin="round"/>
<circle cx="532.6" cy="706" r="1.7" fill="#e6647f"/>
<path d="M521.9 729.4 L543.3 705.7 L543.3 713.8 L521.9 737.5Z" fill="#f496a7" stroke="#f496a7" stroke-width="3" stroke-linejoin="round"/>
<circle cx="532.6" cy="721.6" r="1.7" fill="#e6647f"/>
<path d="M547.9 652.6 L569 629.4 L569 637.5 L547.9 660.7Z" fill="#f496a7" stroke="#f496a7" stroke-width="3" stroke-linejoin="round"/>
<circle cx="558.5" cy="645" r="1.7" fill="#e6647f"/>
<path d="M547.9 668.2 L569 645 L569 653.1 L547.9 676.3Z" fill="#f496a7" stroke="#f496a7" stroke-width="3" stroke-linejoin="round"/>
<circle cx="558.5" cy="660.6" r="1.7" fill="#e6647f"/>
<path d="M547.9 683.8 L569 660.6 L569 668.7 L547.9 691.9Z" fill="#f496a7" stroke="#f496a7" stroke-width="3" stroke-linejoin="round"/>
<circle cx="558.5" cy="676.2" r="1.7" fill="#e6647f"/>
<path d="M547.9 699.4 L569 676.2 L569 684.3 L547.9 707.5Z" fill="#f496a7" stroke="#f496a7" stroke-width="3" stroke-linejoin="round"/>
<circle cx="558.5" cy="691.8" r="1.7" fill="#e6647f"/>
<path d="M547.9 715 L569 691.8 L569 699.9 L547.9 723.1Z" fill="#f496a7" stroke="#f496a7" stroke-width="3" stroke-linejoin="round"/>
<circle cx="558.5" cy="707.4" r="1.7" fill="#e6647f"/>
<path d="M573.7 624.6 L595.5 602.2 L595.5 610.4 L573.7 632.9Z" fill="#f496a7" stroke="#f496a7" stroke-width="3" stroke-linejoin="round"/>
<circle cx="584.6" cy="617.5" r="1.7" fill="#e6647f"/>
<path d="M573.7 640.2 L595.5 617.8 L595.5 626 L573.7 648.5Z" fill="#f496a7" stroke="#f496a7" stroke-width="3" stroke-linejoin="round"/>
<circle cx="584.6" cy="633.1" r="1.7" fill="#e6647f"/>
<path d="M573.7 655.8 L595.5 633.4 L595.5 641.6 L573.7 664.1Z" fill="#f496a7" stroke="#f496a7" stroke-width="3" stroke-linejoin="round"/>
<circle cx="584.6" cy="648.7" r="1.7" fill="#e6647f"/>
<path d="M573.7 671.4 L595.5 649 L595.5 657.2 L573.7 679.7Z" fill="#f496a7" stroke="#f496a7" stroke-width="3" stroke-linejoin="round"/>
<circle cx="584.6" cy="664.3" r="1.7" fill="#e6647f"/>
<path d="M599.9 590.5 L620.5 569.9 L620.5 578.3 L599.9 598.9Z" fill="#f496a7" stroke="#f496a7" stroke-width="3" stroke-linejoin="round"/>
<circle cx="610.2" cy="584.4" r="1.7" fill="#e6647f"/>
<path d="M599.9 606.1 L620.5 585.5 L620.5 593.9 L599.9 614.5Z" fill="#f496a7" stroke="#f496a7" stroke-width="3" stroke-linejoin="round"/>
<circle cx="610.2" cy="600" r="1.7" fill="#e6647f"/>
<path d="M599.9 621.7 L620.5 601.1 L620.5 609.5 L599.9 630.1Z" fill="#f496a7" stroke="#f496a7" stroke-width="3" stroke-linejoin="round"/>
<circle cx="610.2" cy="615.6" r="1.7" fill="#e6647f"/>
<path d="M599.9 637.3 L620.5 616.7 L620.5 625.1 L599.9 645.7Z" fill="#f496a7" stroke="#f496a7" stroke-width="3" stroke-linejoin="round"/>
<circle cx="610.2" cy="631.2" r="1.7" fill="#e6647f"/>
<path d="M572.6 686.4 L597 661.2 L597 673.6 L586 685.6 L586 698.6 L562.8 725.4 L562.8 712 L572.6 700.6Z" fill="#f496a7" stroke="#f496a7" stroke-width="1.5" stroke-linejoin="round"/>
<circle cx="591" cy="672" r="1.7" fill="#e6647f"/>
<circle cx="575" cy="705" r="1.7" fill="#e6647f"/>
<ellipse cx="249.7" cy="639.4" rx="23" ry="9" fill="url(#hag)" stroke="#8aa3b4" stroke-width="1"/>
<path d="M234.1 642.2 C235.6 631.6 247.4 631.6 250.5 640 S264.6 647.8 265.3 635.5" fill="none" stroke="#1a1e2a" stroke-width="1.7" stroke-linecap="round"/>
<ellipse cx="345.4" cy="646.4" rx="23" ry="10" fill="url(#hag)" stroke="#8aa3b4" stroke-width="1"/>
<path d="M329.8 649.5 C331.3 637.7 343.1 637.7 346.2 647 S360.3 655.7 361 642.1" fill="none" stroke="#1a1e2a" stroke-width="1.7" stroke-linecap="round"/>
<ellipse cx="454" cy="642.6" rx="18.7" ry="10.4" fill="url(#hag)" stroke="#8aa3b4" stroke-width="1"/>
<path d="M441.3 645.8 C442.6 633.6 452.1 633.6 454.6 643.2 S466.1 652.3 466.7 638.1" fill="none" stroke="#1a1e2a" stroke-width="1.7" stroke-linecap="round"/>
<ellipse cx="350.7" cy="603" rx="18.6" ry="10.4" fill="url(#hag)" stroke="#8aa3b4" stroke-width="1"/>
<path d="M338.1 606.2 C339.3 594 348.8 594 351.3 603.6 S362.7 612.7 363.3 598.5" fill="none" stroke="#1a1e2a" stroke-width="1.7" stroke-linecap="round"/>
<ellipse cx="448.8" cy="605" rx="16.6" ry="10" fill="url(#hag)" stroke="#8aa3b4" stroke-width="1"/>
<path d="M437.5 608.1 C438.6 596.3 447.1 596.3 449.4 605.6 S459.5 614.3 460.1 600.7" fill="none" stroke="#1a1e2a" stroke-width="1.7" stroke-linecap="round"/>
<ellipse cx="544.8" cy="606.8" rx="14.6" ry="7.6" fill="url(#hag)" stroke="#8aa3b4" stroke-width="1"/>
<path d="M534.9 609.2 C535.9 600.2 543.3 600.2 545.3 607.3 S554.2 613.9 554.7 603.5" fill="none" stroke="#1a1e2a" stroke-width="1.7" stroke-linecap="round"/>
<ellipse cx="418" cy="569.8" rx="11.8" ry="6" fill="url(#hag)" stroke="#8aa3b4" stroke-width="1"/>
<path d="M410 571.7 C410.8 564.6 416.8 564.6 418.4 570.2 S425.6 575.4 426 567.2" fill="none" stroke="#1a1e2a" stroke-width="1.7" stroke-linecap="round"/>
<ellipse cx="504.3" cy="570.3" rx="11.8" ry="6.6" fill="url(#hag)" stroke="#8aa3b4" stroke-width="1"/>
<path d="M496.3 572.3 C497.1 564.6 503.1 564.6 504.7 570.7 S511.9 576.4 512.3 567.4" fill="none" stroke="#1a1e2a" stroke-width="1.7" stroke-linecap="round"/>
<ellipse cx="588.7" cy="568.4" rx="9.5" ry="5.7" fill="url(#hag)" stroke="#8aa3b4" stroke-width="1"/>
<path d="M582.2 570.2 C582.9 563.5 587.7 563.5 589 568.8 S594.8 573.7 595.2 565.9" fill="none" stroke="#1a1e2a" stroke-width="1.7" stroke-linecap="round"/>
<path d="M245 658.5 Q249.4 661.5 245 664.5 Q240.6 667.5 245 670.5 Q249.4 673.5 245 676.5 Q240.6 679.5 245 682.5 Q249.4 685.5 245 688.5" fill="none" stroke="#7392bf" stroke-width="3.5" stroke-linecap="round" opacity="1"/>
<path d="M245 651.5 L248.8 659.5 L241.2 659.5 Z" fill="#7392bf" opacity="1"/>
<path d="M334 664 Q338.4 667.6 334 671.2 Q329.6 674.9 334 678.5 Q338.4 682.1 334 685.8 Q329.6 689.4 334 693" fill="none" stroke="#7392bf" stroke-width="3.5" stroke-linecap="round" opacity="1"/>
<path d="M334 657 L337.8 665 L330.2 665 Z" fill="#7392bf" opacity="1"/>
<path d="M449.8 664 Q454.2 667 449.8 670 Q445.4 673 449.8 676 Q454.2 679 449.8 682 Q445.4 685 449.8 688 Q454.2 691 449.8 694" fill="none" stroke="#7392bf" stroke-width="3.5" stroke-linecap="round" opacity="1"/>
<path d="M449.8 657 L453.6 665 L446 665 Z" fill="#7392bf" opacity="1"/>
<path d="M549.8 626 Q554.2 629.6 549.8 633.2 Q545.4 636.9 549.8 640.5 Q554.2 644.1 549.8 647.8 Q545.4 651.4 549.8 655" fill="none" stroke="#7392bf" stroke-width="3.5" stroke-linecap="round" opacity="1"/>
<path d="M549.8 619 L553.6 627 L546 627 Z" fill="#7392bf" opacity="1"/>
<path d="M592 583.5 Q596.4 586.5 592 589.5 Q587.6 592.5 592 595.5 Q596.4 598.5 592 601.5 Q587.6 604.5 592 607.5 Q596.4 610.5 592 613.5" fill="none" stroke="#7392bf" stroke-width="3.5" stroke-linecap="round" opacity="1"/>
<path d="M592 576.5 L595.8 584.5 L588.2 584.5 Z" fill="#7392bf" opacity="1"/>
<path d="M245 590 q2.6 3.6 0 7.2 q-2.6 3.6 0 7.2 q2.6 3.6 0 7.2 q-2.6 3.6 0 7.2 q2.6 3.6 0 7.2" fill="none" stroke="#a9c6e6" stroke-width="1.3" stroke-linecap="round" opacity="0.8"/>
<path d="M411.8 524 q2.6 3.2 0 6.4 q-2.6 3.2 0 6.4 q2.6 3.2 0 6.4 q-2.6 3.2 0 6.4 q2.6 3.2 0 6.4" fill="none" stroke="#a9c6e6" stroke-width="1.3" stroke-linecap="round" opacity="0.8"/>
<path d="M592 522 q2.6 3.8 0 7.6 q-2.6 3.8 0 7.6 q2.6 3.8 0 7.6 q-2.6 3.8 0 7.6 q2.6 3.8 0 7.6" fill="none" stroke="#a9c6e6" stroke-width="1.3" stroke-linecap="round" opacity="0.8"/>
<path d="M408.4 269.2 L503.5 174.5" stroke="#5a3b2a" stroke-width="3.7" fill="none"/>
<path d="M509.9 167.9 L498.2 170.4 L507.4 179.8Z" fill="#5a3b2a" stroke="#5a3b2a" stroke-width="2.6" stroke-linejoin="round"/>
<path d="M593.5 452.3 L530 524" stroke="#5a3b2a" stroke-width="11.2" fill="none"/>
<path d="M518.9 512 L543.2 532.7 L513.9 542.6Z" fill="#5a3b2a" stroke="#5a3b2a" stroke-width="10" stroke-linejoin="round"/>
<path d="M767.9 430.4 L829 534" stroke="#5a3b2a" stroke-width="10.8" fill="none"/>
<path d="M842.4 523.2 L813.9 540.2 L840.5 553.7Z" fill="#5a3b2a" stroke="#5a3b2a" stroke-width="10" stroke-linejoin="round"/>
<path d="M908 224.5 L916.7 224.5 L916.7 314 L908 314 M916.7 269.3 L925.6 269.3" stroke="#808a98" stroke-width="1.1" fill="none"/>
<path d="M899 221 L930 205.6" stroke="#9a9a9a" stroke-width="0.8" fill="none"/>
<defs>
<linearGradient id="sblue" x1="0" y1="0" x2="0" y2="1"><stop offset="0" stop-color="#e6f3fa"/><stop offset="0.45" stop-color="#d0e8f5"/><stop offset="1" stop-color="#b0d9f0"/></linearGradient>
<linearGradient id="spink" x1="0" y1="0" x2="0" y2="1"><stop offset="0" stop-color="#f693a1"/><stop offset="1" stop-color="#f798a5"/></linearGradient>
<filter id="sblur" x="-5%" y="-5%" width="110%" height="110%"><feGaussianBlur stdDeviation="0.9"/></filter>
</defs>
<path d="M669.5 647 L692 634 L735 616 L770 601 L818 590 L835 580 L880 566 L900 556 L958 549 L1062 548 L1100 549 L1128 556 L1137 565 L1137 572 L1030 688 L669.5 688 Z" fill="#fff" filter="url(#sblur)"/>
<g filter="url(#sblur)">
<path d="M670 684.6 L1029 684.6 L1136 567.5 L1136 633 L1111.5 664.5 L1111.5 682 L1100.5 693 L1100.5 704 L1089 714 L1073 733.5 L1056 733.5 L1038 752 L1029 752 L998 752 L998 768.5 L982 768.5 L982 782.5 L947 782.5 L947 768.5 L930 768.5 L930 752 L867.8 752 L867.8 768 L834 768 L834 752 L773.5 752 L773.5 768.4 L757.6 768.4 L757.6 784.4 L723 784.4 L723 768.4 L704 768.4 L704 752 L670 752 Z" fill="url(#spink)" stroke="#f694a2" stroke-width="1.5" stroke-linejoin="round"/>
</g>
<path d="M702.6 686 V751" stroke="#f9b0b8" stroke-width="1.2" opacity="0.55"/>
<path d="M735.2 686 V751" stroke="#f9b0b8" stroke-width="1.2" opacity="0.55"/>
<path d="M767.8 686 V751" stroke="#f9b0b8" stroke-width="1.2" opacity="0.55"/>
<path d="M800.4 686 V751" stroke="#f9b0b8" stroke-width="1.2" opacity="0.55"/>
<path d="M833 686 V751" stroke="#f9b0b8" stroke-width="1.2" opacity="0.55"/>
<path d="M865.6 686 V751" stroke="#f9b0b8" stroke-width="1.2" opacity="0.55"/>
<path d="M898.2 686 V751" stroke="#f9b0b8" stroke-width="1.2" opacity="0.55"/>
<path d="M930.8 686 V751" stroke="#f9b0b8" stroke-width="1.2" opacity="0.55"/>
<path d="M963.4 686 V751" stroke="#f9b0b8" stroke-width="1.2" opacity="0.55"/>
<path d="M996 686 V751" stroke="#f9b0b8" stroke-width="1.2" opacity="0.55"/>
<path d="M671 702.5 H1028" stroke="#f08a98" stroke-width="1.4" opacity="0.35"/>
<path d="M671 718.5 H1028" stroke="#f08a98" stroke-width="1.4" opacity="0.35"/>
<path d="M671 734.5 H1028" stroke="#f08a98" stroke-width="1.4" opacity="0.35"/>
<path d="M1055.8 657.4 V717.4" stroke="#f7aab4" stroke-width="1" opacity="0.6"/>
<path d="M1082.6 628.2 V688.2" stroke="#f7aab4" stroke-width="1" opacity="0.6"/>
<path d="M1109.4 599 V659" stroke="#f7aab4" stroke-width="1" opacity="0.6"/>
<path d="M1030 700.8 L1135 584.2" stroke="#f7aab4" stroke-width="1" opacity="0.5"/>
<path d="M1030 717 L1135 600.4" stroke="#f7aab4" stroke-width="1" opacity="0.5"/>
<path d="M1030 733.2 L1135 616.6" stroke="#f7aab4" stroke-width="1" opacity="0.5"/>
<circle cx="688" cy="694.8" r="1.8" fill="#e0637f"/>
<circle cx="720.5" cy="694.8" r="1.8" fill="#e0637f"/>
<circle cx="753.1" cy="694.8" r="1.8" fill="#e0637f"/>
<circle cx="785.6" cy="694.8" r="1.8" fill="#e0637f"/>
<circle cx="818.2" cy="694.8" r="1.8" fill="#e0637f"/>
<circle cx="850.8" cy="694.8" r="1.8" fill="#e0637f"/>
<circle cx="883.3" cy="694.8" r="1.8" fill="#e0637f"/>
<circle cx="915.8" cy="694.8" r="1.8" fill="#e0637f"/>
<circle cx="948.4" cy="694.8" r="1.8" fill="#e0637f"/>
<circle cx="981" cy="694.8" r="1.8" fill="#e0637f"/>
<circle cx="1013.5" cy="694.8" r="1.8" fill="#e0637f"/>
<circle cx="688" cy="710.4" r="1.8" fill="#e0637f"/>
<circle cx="720.5" cy="710.4" r="1.8" fill="#e0637f"/>
<circle cx="753.1" cy="710.4" r="1.8" fill="#e0637f"/>
<circle cx="785.6" cy="710.4" r="1.8" fill="#e0637f"/>
<circle cx="818.2" cy="710.4" r="1.8" fill="#e0637f"/>
<circle cx="850.8" cy="710.4" r="1.8" fill="#e0637f"/>
<circle cx="883.3" cy="710.4" r="1.8" fill="#e0637f"/>
<circle cx="915.8" cy="710.4" r="1.8" fill="#e0637f"/>
<circle cx="948.4" cy="710.4" r="1.8" fill="#e0637f"/>
<circle cx="981" cy="710.4" r="1.8" fill="#e0637f"/>
<circle cx="1013.5" cy="710.4" r="1.8" fill="#e0637f"/>
<circle cx="688" cy="726.4" r="1.8" fill="#e0637f"/>
<circle cx="720.5" cy="726.4" r="1.8" fill="#e0637f"/>
<circle cx="753.1" cy="726.4" r="1.8" fill="#e0637f"/>
<circle cx="785.6" cy="726.4" r="1.8" fill="#e0637f"/>
<circle cx="818.2" cy="726.4" r="1.8" fill="#e0637f"/>
<circle cx="850.8" cy="726.4" r="1.8" fill="#e0637f"/>
<circle cx="883.3" cy="726.4" r="1.8" fill="#e0637f"/>
<circle cx="915.8" cy="726.4" r="1.8" fill="#e0637f"/>
<circle cx="948.4" cy="726.4" r="1.8" fill="#e0637f"/>
<circle cx="981" cy="726.4" r="1.8" fill="#e0637f"/>
<circle cx="1013.5" cy="726.4" r="1.8" fill="#e0637f"/>
<circle cx="688" cy="742.6" r="1.8" fill="#e0637f"/>
<circle cx="720.5" cy="742.6" r="1.8" fill="#e0637f"/>
<circle cx="753.1" cy="742.6" r="1.8" fill="#e0637f"/>
<circle cx="785.6" cy="742.6" r="1.8" fill="#e0637f"/>
<circle cx="818.2" cy="742.6" r="1.8" fill="#e0637f"/>
<circle cx="850.8" cy="742.6" r="1.8" fill="#e0637f"/>
<circle cx="883.3" cy="742.6" r="1.8" fill="#e0637f"/>
<circle cx="915.8" cy="742.6" r="1.8" fill="#e0637f"/>
<circle cx="948.4" cy="742.6" r="1.8" fill="#e0637f"/>
<circle cx="981" cy="742.6" r="1.8" fill="#e0637f"/>
<circle cx="1013.5" cy="742.6" r="1.8" fill="#e0637f"/>
<circle cx="717" cy="761" r="1.8" fill="#e0637f"/>
<circle cx="755" cy="759.6" r="1.8" fill="#e0637f"/>
<circle cx="739" cy="775.6" r="1.8" fill="#e0637f"/>
<circle cx="851" cy="758.4" r="1.8" fill="#e0637f"/>
<circle cx="948" cy="759.5" r="1.8" fill="#e0637f"/>
<circle cx="980" cy="759.5" r="1.8" fill="#e0637f"/>
<circle cx="964" cy="775" r="1.8" fill="#e0637f"/>
<circle cx="1043.3" cy="678.9" r="1.8" fill="#e0637f"/>
<circle cx="1043.3" cy="696.7" r="1.8" fill="#e0637f"/>
<circle cx="1043.3" cy="712.2" r="1.8" fill="#e0637f"/>
<circle cx="1043.3" cy="727.8" r="1.8" fill="#e0637f"/>
<circle cx="1069.6" cy="648.9" r="1.8" fill="#e0637f"/>
<circle cx="1069.6" cy="666.2" r="1.8" fill="#e0637f"/>
<circle cx="1069.6" cy="682.2" r="1.8" fill="#e0637f"/>
<circle cx="1069.6" cy="697.3" r="1.8" fill="#e0637f"/>
<circle cx="1069.6" cy="713.3" r="1.8" fill="#e0637f"/>
<circle cx="1095.6" cy="617.8" r="1.8" fill="#e0637f"/>
<circle cx="1095.6" cy="636.7" r="1.8" fill="#e0637f"/>
<circle cx="1095.6" cy="652.2" r="1.8" fill="#e0637f"/>
<circle cx="1095.6" cy="667.8" r="1.8" fill="#e0637f"/>
<circle cx="1097" cy="681" r="1.8" fill="#e0637f"/>
<circle cx="1084" cy="713" r="1.8" fill="#e0637f"/>
<circle cx="1121" cy="589.3" r="1.8" fill="#e0637f"/>
<circle cx="1121" cy="605.5" r="1.8" fill="#e0637f"/>
<circle cx="1121" cy="622.2" r="1.8" fill="#e0637f"/>
<circle cx="1121" cy="637.8" r="1.8" fill="#e0637f"/>
<rect x="674" y="661.5" width="30" height="7.2" rx="1.2" fill="#e2ecf5"/>
<rect x="716" y="658.5" width="30" height="7.2" rx="1.2" fill="#e4e9f3"/>
<rect x="755" y="660" width="20" height="7.2" rx="1.2" fill="#e0eaf4"/>
<rect x="787" y="660" width="18" height="7.2" rx="1.2" fill="#e4e9f3"/>
<rect x="811" y="660" width="30" height="7.2" rx="1.2" fill="#e0eaf4"/>
<rect x="850" y="661.5" width="18" height="7.2" rx="1.2" fill="#e0eaf4"/>
<rect x="873" y="658.5" width="24" height="7.2" rx="1.2" fill="#e0eaf4"/>
<rect x="902" y="660" width="24" height="7.2" rx="1.2" fill="#e0eaf4"/>
<rect x="932" y="660" width="24" height="7.2" rx="1.2" fill="#e0eaf4"/>
<rect x="965" y="661.5" width="26" height="7.2" rx="1.2" fill="#e0eaf4"/>
<rect x="1000" y="660" width="22" height="7.2" rx="1.2" fill="#e4e9f3"/>
<rect x="672" y="675.7" width="20" height="7.2" rx="1.2" fill="#e4e9f3"/>
<rect x="701" y="675.7" width="24" height="7.2" rx="1.2" fill="#e0eaf4"/>
<rect x="737" y="672.7" width="26" height="7.2" rx="1.2" fill="#e2ecf5"/>
<rect x="775" y="675.7" width="20" height="7.2" rx="1.2" fill="#e4e9f3"/>
<rect x="807" y="675.7" width="18" height="7.2" rx="1.2" fill="#e0eaf4"/>
<rect x="830" y="674.2" width="18" height="7.2" rx="1.2" fill="#e0eaf4"/>
<rect x="860" y="675.7" width="20" height="7.2" rx="1.2" fill="#e4e9f3"/>
<rect x="886" y="677.2" width="30" height="7.2" rx="1.2" fill="#e4e9f3"/>
<rect x="921" y="672.7" width="30" height="7.2" rx="1.2" fill="#e4e9f3"/>
<rect x="957" y="674.2" width="24" height="7.2" rx="1.2" fill="#e0eaf4"/>
<rect x="990" y="675.7" width="18" height="7.2" rx="1.2" fill="#e2ecf5"/>
<path d="M1035 665.6 l9.8 -9.8" stroke="#e3e9f3" stroke-width="6.5" stroke-linecap="butt" fill="none"/>
<path d="M1050 650.4 l9.4 -9.4" stroke="#e3e9f3" stroke-width="6.1" stroke-linecap="butt" fill="none"/>
<path d="M1065 635.3 l9 -9" stroke="#e3e9f3" stroke-width="5.8" stroke-linecap="butt" fill="none"/>
<path d="M1080 620.2 l8.6 -8.6" stroke="#e3e9f3" stroke-width="5.4" stroke-linecap="butt" fill="none"/>
<path d="M1095 605 l8.1 -8.1" stroke="#e3e9f3" stroke-width="5.1" stroke-linecap="butt" fill="none"/>
<path d="M1110 589.9 l7.7 -7.7" stroke="#e3e9f3" stroke-width="4.7" stroke-linecap="butt" fill="none"/>
<path d="M1042 646.6 l9.6 -9.6" stroke="#e3e9f3" stroke-width="6.3" stroke-linecap="butt" fill="none"/>
<path d="M1057 632.7 l9.2 -9.2" stroke="#e3e9f3" stroke-width="5.9" stroke-linecap="butt" fill="none"/>
<path d="M1072 618.8 l8.8 -8.8" stroke="#e3e9f3" stroke-width="5.6" stroke-linecap="butt" fill="none"/>
<path d="M1087 604.8 l8.4 -8.4" stroke="#e3e9f3" stroke-width="5.2" stroke-linecap="butt" fill="none"/>
<path d="M1102 590.9 l8 -8" stroke="#e3e9f3" stroke-width="4.9" stroke-linecap="butt" fill="none"/>
<path d="M1117 577 l7.5 -7.5" stroke="#e3e9f3" stroke-width="4.5" stroke-linecap="butt" fill="none"/>
<path d="M880 562.5 C893 552.8 911.2 550.1 932 549.6 L1086 549.2 C1101.8 549.2 1113.5 554.8 1117.5 556.3 C1109.5 564 1102 569.2 1092 569.2 L886 569.2 C883 569.2 879 565.5 880 562.5 Z" fill="url(#sblue)" stroke="#6a9ab8" stroke-width="1.3" stroke-linejoin="round"/>
<clipPath id="srow0"><path d="M880 562.5 C893 552.8 911.2 550.1 932 549.6 L1086 549.2 C1101.8 549.2 1113.5 554.8 1117.5 556.3 C1109.5 564 1102 569.2 1092 569.2 L886 569.2 C883 569.2 879 565.5 880 562.5 Z"/></clipPath>
<g clip-path="url(#srow0)">
<path d="M947.5 568.7 C969.5 562.2 997.5 553.6 1035.5 551.6" fill="none" stroke="#6a9ab8" stroke-width="1.2"/>
<path d="M1002 568.7 C1024 562.2 1052 553.6 1090 551.6" fill="none" stroke="#6a9ab8" stroke-width="1.2"/>
<path d="M1056.5 568.7 C1078.5 562.2 1106.5 553.6 1144.5 551.6" fill="none" stroke="#6a9ab8" stroke-width="1.2"/>
</g>
<path d="M938 551.8 L1082 551.8" stroke="#f4fafd" stroke-width="2.2" stroke-linecap="round" opacity="0.9" fill="none"/>
<path d="M886 569.2 L1092 569.2" stroke="#5c93ba" stroke-width="1.4" opacity="0.85" fill="none"/>
<path d="M818 586.5 C831.5 574.3 850.4 570.7 872 570.2 L1064 569.6 C1076.9 569.6 1085.8 574.1 1089.8 575.6 C1081.8 585 1080 591.2 1070 591.2 L824 591.2 C821 591.2 817 589.5 818 586.5 Z" fill="url(#sblue)" stroke="#6a9ab8" stroke-width="1.3" stroke-linejoin="round"/>
<clipPath id="srow1"><path d="M818 586.5 C831.5 574.3 850.4 570.7 872 570.2 L1064 569.6 C1076.9 569.6 1085.8 574.1 1089.8 575.6 C1081.8 585 1080 591.2 1070 591.2 L824 591.2 C821 591.2 817 589.5 818 586.5 Z"/></clipPath>
<g clip-path="url(#srow1)">
<path d="M894.9 590.7 C916.9 583.6 944.9 574.4 982.9 572.2" fill="none" stroke="#6a9ab8" stroke-width="1.2"/>
<path d="M961 590.7 C983 583.6 1011 574.4 1049 572.2" fill="none" stroke="#6a9ab8" stroke-width="1.2"/>
<path d="M1027.1 590.7 C1049.1 583.6 1077.1 574.4 1115.1 572.2" fill="none" stroke="#6a9ab8" stroke-width="1.2"/>
</g>
<path d="M878 572.2 L1060 572.2" stroke="#f4fafd" stroke-width="2.2" stroke-linecap="round" opacity="0.9" fill="none"/>
<path d="M824 591.2 L1070 591.2" stroke="#5c93ba" stroke-width="1.4" opacity="0.85" fill="none"/>
<path d="M735 611.2 C751.2 597.2 774 593.1 800 592.6 L1046 592 C1059 592 1068 595.7 1072 597.2 C1064 607.3 1056 614 1046 614 L742 614 C739 614 734 614.2 735 611.2 Z" fill="url(#sblue)" stroke="#6a9ab8" stroke-width="1.3" stroke-linejoin="round"/>
<clipPath id="srow2"><path d="M735 611.2 C751.2 597.2 774 593.1 800 592.6 L1046 592 C1059 592 1068 595.7 1072 597.2 C1064 607.3 1056 614 1046 614 L742 614 C739 614 734 614.2 735 611.2 Z"/></clipPath>
<g clip-path="url(#srow2)">
<path d="M820.2 613.5 C842.2 606.3 870.2 596.8 908.2 594.6" fill="none" stroke="#6a9ab8" stroke-width="1.2"/>
<path d="M882.1 613.5 C904.1 606.3 932.1 596.8 970.1 594.6" fill="none" stroke="#6a9ab8" stroke-width="1.2"/>
<path d="M943.9 613.5 C965.9 606.3 993.9 596.8 1031.9 594.6" fill="none" stroke="#6a9ab8" stroke-width="1.2"/>
<path d="M1005.8 613.5 C1027.8 606.3 1055.8 596.8 1093.8 594.6" fill="none" stroke="#6a9ab8" stroke-width="1.2"/>
</g>
<path d="M806 594.6 L1042 594.6" stroke="#f4fafd" stroke-width="2.2" stroke-linecap="round" opacity="0.9" fill="none"/>
<path d="M742 614 L1046 614" stroke="#5c93ba" stroke-width="1.4" opacity="0.85" fill="none"/>
<path d="M669.8 646.6 C686.3 623.4 709.5 616.1 736 615.6 L1022 615 C1033.2 615 1040.5 619.5 1044.5 621 C1036.5 638.6 1024 650.4 1014 650.4 L674 650.4 C671 650.4 668.8 649.6 669.8 646.6 Z" fill="url(#sblue)" stroke="#6a9ab8" stroke-width="1.3" stroke-linejoin="round"/>
<clipPath id="srow3"><path d="M669.8 646.6 C686.3 623.4 709.5 616.1 736 615.6 L1022 615 C1033.2 615 1040.5 619.5 1044.5 621 C1036.5 638.6 1024 650.4 1014 650.4 L674 650.4 C671 650.4 668.8 649.6 669.8 646.6 Z"/></clipPath>
<g clip-path="url(#srow3)">
<path d="M761 649.9 C783 638 811 622.8 849 619.2" fill="none" stroke="#6a9ab8" stroke-width="1.2"/>
<path d="M830.3 649.9 C852.3 638 880.3 622.8 918.3 619.2" fill="none" stroke="#6a9ab8" stroke-width="1.2"/>
<path d="M899.7 649.9 C921.7 638 949.7 622.8 987.7 619.2" fill="none" stroke="#6a9ab8" stroke-width="1.2"/>
<path d="M969 649.9 C991 638 1019 622.8 1057 619.2" fill="none" stroke="#6a9ab8" stroke-width="1.2"/>
</g>
<path d="M742 617.6 L1018 617.6" stroke="#f4fafd" stroke-width="2.2" stroke-linecap="round" opacity="0.9" fill="none"/>
<path d="M674 650.4 L1014 650.4" stroke="#5c93ba" stroke-width="1.4" opacity="0.85" fill="none"/>
<path d="M672 650.6 C760 651.5 900 651 1014 649.5" fill="none" stroke="#6ea5cc" stroke-width="1.2"/>
<g opacity="0.97">
<path d="M677 643 Q682.9 638.8 686 643 Q689.1 647.1 692 643.3 Q694.9 639.4 698.1 643 Q701.3 646.6 704 642.2 Q706.7 637.8 710 642.2 Q713.3 646.6 716.2 644.1 L719 641.5" fill="none" stroke="#5f7688" stroke-width="3.3" stroke-linecap="round" stroke-linejoin="round"/>
<path d="M677 643 Q683.1 647 686 642.8 Q688.9 638.5 692 642.3 Q695.1 646 697.9 642.2 Q700.7 638.4 704 642.5 Q707.3 646.5 710 641.8 Q712.7 637 715.8 639.3 L719 641.5" fill="none" stroke="#5f7688" stroke-width="3.3" stroke-linecap="round" stroke-linejoin="round"/>
<path d="M719 641.5 Q725.8 637.3 727.7 642.9 Q729.7 648.5 732.9 644.1 Q736.1 639.6 739.4 643.8 Q742.7 648 745.3 644.1 Q748 640.1 751.2 642.9 Q754.3 645.8 757.2 644.1 L760 642.5" fill="none" stroke="#5f7688" stroke-width="3.3" stroke-linecap="round" stroke-linejoin="round"/>
<path d="M719 641.5 Q723.8 647.6 727.7 642.9 Q731.6 638.2 734.2 643.4 Q736.8 648.5 739.4 643.9 Q742 639.3 745.2 642.9 Q748.5 646.5 751.2 643.3 Q753.9 640 756.9 641.3 L760 642.5" fill="none" stroke="#5f7688" stroke-width="3.3" stroke-linecap="round" stroke-linejoin="round"/>
<path d="M719 641.5 Q718.1 635.4 723.6 636.3 Q729.2 637.1 726.3 632.5 Q723.5 627.9 728.9 628.7 Q734.3 629.4 732.6 624.9 Q731 620.4 735.7 622.7 Q740.4 625 739.6 620.2 Q738.7 615.4 743.1 617.2 Q747.5 619 748.2 616.3 L749 613.5" fill="none" stroke="#5f7688" stroke-width="3.3" stroke-linecap="round" stroke-linejoin="round"/>
<path d="M719 641.5 Q725.5 640.2 722.7 635.7 Q719.9 631.2 725.6 632 Q731.2 632.9 728.6 628.5 Q726 624.1 731.2 625.6 Q736.3 627.2 735.4 622.4 Q734.6 617.5 739.2 619.7 Q743.9 622 743.4 617.6 Q742.8 613.2 745.9 613.3 L749 613.5" fill="none" stroke="#5f7688" stroke-width="3.3" stroke-linecap="round" stroke-linejoin="round"/>
<path d="M735 610 Q739.6 608 739.9 612.3 Q740.3 616.5 743.4 613.2 Q746.6 610 747.8 611.7 L749 613.5" fill="none" stroke="#5f7688" stroke-width="3.3" stroke-linecap="round" stroke-linejoin="round"/>
<path d="M749 613.5 Q756.9 611.7 757.1 616.6 Q757.3 621.5 761.7 619.9 Q766.1 618.3 766.2 623.3 Q766.4 628.3 771.3 626 Q776.1 623.6 776.2 628.6 Q776.3 633.6 781 631.8 Q785.7 630 785.8 634.8 Q785.8 639.6 790.7 637.6 Q795.6 635.6 795.9 640.2 Q796.1 644.7 800.5 643.4 Q804.9 642.1 806.4 644.8 L808 647.5" fill="none" stroke="#5f7688" stroke-width="3.3" stroke-linecap="round" stroke-linejoin="round"/>
<path d="M749 613.5 Q751.1 620.7 755.9 618.5 Q760.7 616.3 761.3 620.6 Q761.9 624.9 766.7 622.6 Q771.5 620.3 771.7 625.3 Q771.8 630.4 776.6 628.4 Q781.4 626.3 781.5 631 Q781.7 635.7 786.5 633.8 Q791.3 631.9 791.2 636.9 Q791.2 641.9 795.8 640.2 Q800.5 638.5 800.9 642.8 Q801.4 647 804.7 647.3 L808 647.5" fill="none" stroke="#5f7688" stroke-width="3.3" stroke-linecap="round" stroke-linejoin="round"/>
<path d="M808 647.5 Q803.4 642.8 808.5 640.7 Q813.6 638.6 809.1 636.2 Q804.5 633.8 809 631.6 Q813.4 629.4 808.9 626.3 Q804.3 623.2 810.6 622.8 Q817 622.4 813 618.8 Q809 615.2 814.1 614.4 Q819.1 613.6 817.8 610.8 L816.5 608" fill="none" stroke="#5f7688" stroke-width="3.3" stroke-linecap="round" stroke-linejoin="round"/>
<path d="M808 647.5 Q812.9 643.1 807.9 640.7 Q803 638.3 807.7 636.1 Q812.3 634 808.1 631.6 Q803.8 629.2 809.9 628 Q816 626.9 811.2 623 Q806.5 619.1 812.1 618.5 Q817.6 617.9 814.2 614.4 Q810.7 610.9 813.6 609.5 L816.5 608" fill="none" stroke="#5f7688" stroke-width="3.3" stroke-linecap="round" stroke-linejoin="round"/>
<path d="M816.5 608 Q809.3 602.6 814.6 600 Q819.8 597.4 818.3 593.1 Q816.9 588.7 820.2 586.9 L823.5 585" fill="none" stroke="#5f7688" stroke-width="3.3" stroke-linecap="round" stroke-linejoin="round"/>
<path d="M816.5 608 Q821.6 600.8 817.8 597.6 Q814 594.4 818.8 593.3 Q823.5 592.2 823.5 588.6 L823.5 585" fill="none" stroke="#5f7688" stroke-width="3.3" stroke-linecap="round" stroke-linejoin="round"/>
<path d="M749 613.5 Q751.9 609.1 755.7 611.6 Q759.4 614 759.5 608.9 Q759.5 603.8 763.6 606.9 Q767.6 610 768.2 606 Q768.8 602 771.9 604.2 Q775.1 606.5 776.6 602.3 Q778.1 598.1 781.1 601.3 Q784 604.6 785.6 600.9 Q787.3 597.3 790.3 600.9 Q793.3 604.6 795.2 602 L797 599.5" fill="none" stroke="#5f7688" stroke-width="3.3" stroke-linecap="round" stroke-linejoin="round"/>
<path d="M749 613.5 Q754.5 614.4 755 610.2 Q755.5 606 759.7 609.4 Q763.9 612.8 764 607.9 Q764.2 603 767.9 605.3 Q771.5 607.6 772.6 603.7 Q773.8 599.9 776.8 603.3 Q779.8 606.8 781.3 602.8 Q782.9 598.9 785.8 601.8 Q788.7 604.7 790.2 600.3 Q791.7 595.9 794.3 597.7 L797 599.5" fill="none" stroke="#5f7688" stroke-width="3.3" stroke-linecap="round" stroke-linejoin="round"/>
<path d="M797 599.5 Q799.2 593.8 803.4 595.6 Q807.7 597.3 807.6 592.7 Q807.4 588.1 812.1 590.8 Q816.7 593.5 817 588.9 Q817.3 584.2 820.4 584.6 L823.5 585" fill="none" stroke="#5f7688" stroke-width="3.3" stroke-linecap="round" stroke-linejoin="round"/>
<path d="M797 599.5 Q803.5 600 803.6 595.7 Q803.6 591.4 808.1 593.5 Q812.6 595.5 812.3 590.3 Q812.1 585.1 816.3 587.6 Q820.6 590.1 822 587.5 L823.5 585" fill="none" stroke="#5f7688" stroke-width="3.3" stroke-linecap="round" stroke-linejoin="round"/>
<path d="M797 599.5 Q803.3 597.8 804.7 601.7 Q806.2 605.6 810.9 603 Q815.6 600.4 816 604.2 L816.5 608" fill="none" stroke="#5f7688" stroke-width="3.3" stroke-linecap="round" stroke-linejoin="round"/>
<path d="M823.5 585 Q830.1 584.1 830.8 588.9 Q831.6 593.6 835.4 590.7 Q839.2 587.9 841.7 591.3 Q844.2 594.7 847.2 591 Q850.3 587.4 852.9 589.7 L855.5 592" fill="none" stroke="#5f7688" stroke-width="3.3" stroke-linecap="round" stroke-linejoin="round"/>
<path d="M823.5 585 Q827.1 590.2 831.4 587.6 Q835.8 585.1 837.3 589.5 Q838.7 593.9 841.7 590.9 Q844.7 587.9 847.2 591.8 Q849.6 595.8 852.6 593.9 L855.5 592" fill="none" stroke="#5f7688" stroke-width="3.3" stroke-linecap="round" stroke-linejoin="round"/>
<path d="M855.5 592 Q860.6 596.4 856.9 599.7 Q853.1 603 857.5 604.1 Q861.8 605.1 860.7 609.2 Q859.7 613.2 862.8 614.1 L866 615" fill="none" stroke="#5f7688" stroke-width="3.3" stroke-linecap="round" stroke-linejoin="round"/>
<path d="M855.5 592 Q852.5 597.8 857.4 599.6 Q862.2 601.4 859.3 605.2 Q856.5 609.1 861 609 Q865.5 608.9 865.7 612 L866 615" fill="none" stroke="#5f7688" stroke-width="3.3" stroke-linecap="round" stroke-linejoin="round"/>
<path d="M866 615 Q870.3 622.4 865.1 626.2 Q859.9 630.1 866 631.6 Q872.1 633.1 871.1 637 L870 641" fill="none" stroke="#5f7688" stroke-width="3.3" stroke-linecap="round" stroke-linejoin="round"/>
<path d="M866 615 Q859.9 621.1 864.8 623.9 Q869.8 626.7 866.3 631.5 Q862.8 636.3 866.4 638.7 L870 641" fill="none" stroke="#5f7688" stroke-width="3.3" stroke-linecap="round" stroke-linejoin="round"/>
<path d="M880.5 562 Q882.1 568.4 877.1 570.2 Q872.1 571.9 877.3 573.9 Q882.4 575.9 882.2 579.4 L882 583" fill="none" stroke="#5f7688" stroke-width="3.3" stroke-linecap="round" stroke-linejoin="round"/>
<path d="M880.5 562 Q875.5 566.8 878.8 570.6 Q882.1 574.5 878.4 577.6 Q874.7 580.7 878.4 581.8 L882 583" fill="none" stroke="#5f7688" stroke-width="3.3" stroke-linecap="round" stroke-linejoin="round"/>
<path d="M882 583 Q886.6 589.2 880.5 590.6 Q874.3 592.1 878.3 596.3 Q882.2 600.4 876.2 599.9 Q870.1 599.4 873.5 604.4 Q876.8 609.3 871.1 609 Q865.3 608.6 865.7 611.8 L866 615" fill="none" stroke="#5f7688" stroke-width="3.3" stroke-linecap="round" stroke-linejoin="round"/>
<path d="M882 583 Q875 586.9 880 590.5 Q885 594.2 879.2 594.7 Q873.3 595.3 876.4 600.1 Q879.5 604.9 873.2 604.2 Q866.9 603.5 869.7 608.2 Q872.5 612.8 869.3 613.9 L866 615" fill="none" stroke="#5f7688" stroke-width="3.3" stroke-linecap="round" stroke-linejoin="round"/>
<path d="M816.5 608 Q823.8 607.5 823.2 612.6 Q822.7 617.7 827.6 615.9 Q832.6 614 831.1 618.7 Q829.6 623.5 835.4 623.3 Q841.1 623 840.5 626.5 L840 630" fill="none" stroke="#5f7688" stroke-width="3.3" stroke-linecap="round" stroke-linejoin="round"/>
<path d="M816.5 608 Q818.2 614.6 823.3 612.5 Q828.4 610.5 828 615.4 Q827.6 620.3 832.7 619.4 Q837.9 618.6 835.3 623.3 Q832.7 628 836.3 629 L840 630" fill="none" stroke="#5f7688" stroke-width="3.3" stroke-linecap="round" stroke-linejoin="round"/>
<path d="M840 630 Q845.2 637.6 851 634.8 Q856.7 632.1 858.8 637.5 Q860.9 643 865.5 642 L870 641" fill="none" stroke="#5f7688" stroke-width="3.3" stroke-linecap="round" stroke-linejoin="round"/>
<path d="M840 630 Q840.2 623.3 844.7 625.5 Q849.2 627.8 848.4 623.3 Q847.6 618.9 852.1 621.7 Q856.7 624.6 856.4 619.8 Q856.2 615.1 860.4 618.2 Q864.7 621.4 865.3 618.2 L866 615" fill="none" stroke="#5f7688" stroke-width="3.3" stroke-linecap="round" stroke-linejoin="round"/>
<path d="M840 630 Q847 631.9 846 627.3 Q845.1 622.6 849.5 624.7 Q853.8 626.8 853 621.7 Q852.1 616.6 856.2 619.5 Q860.3 622.4 859.9 617.3 Q859.6 612.3 862.8 613.7 L866 615" fill="none" stroke="#5f7688" stroke-width="3.3" stroke-linecap="round" stroke-linejoin="round"/>
<path d="M823.5 585 Q826.6 578.2 831.1 581.5 Q835.7 584.8 836.7 580.3 Q837.7 575.8 841.8 578.2 Q846 580.6 847.1 576.2 Q848.1 571.7 852.5 574.4 Q856.8 577 857.3 571.6 Q857.7 566.3 862.5 569.6 Q867.2 572.9 868 568.1 Q868.7 563.3 872.8 565.3 Q876.9 567.3 878.7 564.6 L880.5 562" fill="none" stroke="#5f7688" stroke-width="3.3" stroke-linecap="round" stroke-linejoin="round"/>
<path d="M823.5 585 Q830.9 587.8 831.5 582.5 Q832.2 577.2 836.4 579.7 Q840.6 582.2 841.7 577.8 Q842.7 573.4 846.9 575.8 Q851 578.2 851.9 573.5 Q852.8 568.9 857.4 572 Q862.1 575.2 862.5 569.7 Q862.9 564.2 867.3 566.8 Q871.8 569.4 872.8 565.3 Q873.8 561.1 877.2 561.5 L880.5 562" fill="none" stroke="#5f7688" stroke-width="3.3" stroke-linecap="round" stroke-linejoin="round"/>
<path d="M882 583 Q877.1 589.3 873.5 584.9 Q870 580.6 868.7 584.5 Q867.4 588.4 862.4 586.8 Q857.4 585.2 856.5 588.6 L855.5 592" fill="none" stroke="#5f7688" stroke-width="3.3" stroke-linecap="round" stroke-linejoin="round"/>
<path d="M880.5 562 Q885.8 557.3 888.1 562.5 Q890.3 567.7 893.1 563.2 Q895.9 558.7 898.4 562.3 Q900.9 565.9 903.3 562.8 Q905.7 559.7 908.4 563.6 Q911.1 567.4 913.5 563.3 Q915.8 559.3 918.4 560.6 L921 562" fill="none" stroke="#5f7688" stroke-width="3.3" stroke-linecap="round" stroke-linejoin="round"/>
<path d="M880.5 562 Q885.3 567.1 888.1 562.2 Q890.9 557.2 893.2 561.9 Q895.5 566.6 898 563.2 Q900.6 559.8 903.3 562.7 Q906 565.6 908.3 561.5 Q910.6 557.4 913.4 561.3 Q916.1 565.2 918.5 563.6 L921 562" fill="none" stroke="#5f7688" stroke-width="3.3" stroke-linecap="round" stroke-linejoin="round"/>
<path d="M921 562 Q927.5 562.9 925.9 566.8 Q924.3 570.8 928.5 568.7 Q932.6 566.7 933 571.4 Q933.3 576.1 936.2 575.3 L939 574.5" fill="none" stroke="#5f7688" stroke-width="3.3" stroke-linecap="round" stroke-linejoin="round"/>
<path d="M921 562 Q920.4 568 924.9 567.5 Q929.5 567 929 571.4 Q928.5 575.8 932.4 572.7 Q936.2 569.7 937.6 572.1 L939 574.5" fill="none" stroke="#5f7688" stroke-width="3.3" stroke-linecap="round" stroke-linejoin="round"/>
<path d="M939 574.5 Q946 579.2 941.1 583.4 Q936.1 587.6 942.2 589.8 Q948.4 592 944 595.3 Q939.6 598.7 941.8 601.6 L944 604.5" fill="none" stroke="#5f7688" stroke-width="3.3" stroke-linecap="round" stroke-linejoin="round"/>
<path d="M939 574.5 Q935 581.6 941.5 583.3 Q948 585 942.9 588.8 Q937.7 592.7 942.6 595.4 Q947.4 598.2 945.7 601.3 L944 604.5" fill="none" stroke="#5f7688" stroke-width="3.3" stroke-linecap="round" stroke-linejoin="round"/>
<path d="M944 604.5 Q950.7 601.9 953.2 605.9 Q955.7 609.9 959.3 606.1 Q962.8 602.3 965.4 606.9 Q967.9 611.5 971.2 609.8 L974.5 608" fill="none" stroke="#5f7688" stroke-width="3.3" stroke-linecap="round" stroke-linejoin="round"/>
<path d="M944 604.5 Q949.5 608.9 953 605.7 Q956.6 602.5 959.2 607 Q961.8 611.4 965.3 607.3 Q968.9 603.3 971.7 605.6 L974.5 608" fill="none" stroke="#5f7688" stroke-width="3.3" stroke-linecap="round" stroke-linejoin="round"/>
<path d="M944 604.5 Q951.3 607.7 946.6 611.6 Q941.9 615.5 947.3 615.8 Q952.7 616.1 952.8 619.1 L953 622" fill="none" stroke="#5f7688" stroke-width="3.3" stroke-linecap="round" stroke-linejoin="round"/>
<path d="M944 604.5 Q939.8 610.8 946 611.7 Q952.2 612.6 949.6 616.4 Q946.9 620.2 950 621.1 L953 622" fill="none" stroke="#5f7688" stroke-width="3.3" stroke-linecap="round" stroke-linejoin="round"/>
<path d="M953 622 Q960.2 621.4 958.1 626.7 Q956 632 960.5 632.3 Q965 632.7 962.5 634.8 L960 637" fill="none" stroke="#5f7688" stroke-width="3.3" stroke-linecap="round" stroke-linejoin="round"/>
<path d="M953 622 Q952.8 628.7 958.4 626.4 Q964 624.2 959.8 628.1 Q955.6 632.1 957.8 634.6 L960 637" fill="none" stroke="#5f7688" stroke-width="3.3" stroke-linecap="round" stroke-linejoin="round"/>
<path d="M914 640 Q918 635.2 922.1 638.4 Q926.1 641.6 926.9 635.9 Q927.7 630.1 932.1 634.4 Q936.5 638.6 936.6 633 Q936.7 627.4 941.8 629.6 Q947 631.9 946.6 626.9 Q946.1 621.9 949.6 622 L953 622" fill="none" stroke="#5f7688" stroke-width="3.3" stroke-linecap="round" stroke-linejoin="round"/>
<path d="M914 640 Q920.4 641.6 921.5 636.8 Q922.6 631.9 927 636.1 Q931.4 640.2 932.1 634.4 Q932.9 628.5 937.4 631.4 Q942 634.4 941.4 629.1 Q940.8 623.9 945.8 625.9 Q950.8 628 951.9 625 L953 622" fill="none" stroke="#5f7688" stroke-width="3.3" stroke-linecap="round" stroke-linejoin="round"/>
<path d="M960 637 Q965.6 641.7 969.4 638.8 Q973.2 635.8 973.6 640.9 Q973.9 646 978 645 L982 644" fill="none" stroke="#5f7688" stroke-width="3.3" stroke-linecap="round" stroke-linejoin="round"/>
<path d="M994 583 Q991.6 589.7 986.3 589 Q981 588.4 983 593.3 Q985 598.3 978.5 599.2 Q972.1 600 973.3 604 L974.5 608" fill="none" stroke="#5f7688" stroke-width="3.3" stroke-linecap="round" stroke-linejoin="round"/>
<path d="M994 583 Q986.6 584.8 987 589.7 Q987.4 594.6 981.3 594.5 Q975.1 594.3 978.8 599.3 Q982.5 604.3 978.5 606.1 L974.5 608" fill="none" stroke="#5f7688" stroke-width="3.3" stroke-linecap="round" stroke-linejoin="round"/>
<path d="M983.5 560 Q989.5 562.6 985.9 565.9 Q982.4 569.2 987.6 569.8 Q992.9 570.4 989 574.3 Q985.1 578.2 990.4 577.7 Q995.8 577.2 994.9 580.1 L994 583" fill="none" stroke="#5f7688" stroke-width="3.3" stroke-linecap="round" stroke-linejoin="round"/>
<path d="M983.5 560 Q980.3 565.4 985.3 566.1 Q990.3 566.8 986.4 570.2 Q982.6 573.5 988.2 573.5 Q993.8 573.5 990.7 577.6 Q987.6 581.6 990.8 582.3 L994 583" fill="none" stroke="#5f7688" stroke-width="3.3" stroke-linecap="round" stroke-linejoin="round"/>
<path d="M994 583 Q1000.6 580.6 1002.9 585.1 Q1005.2 589.7 1009.3 585.3 Q1013.3 580.9 1015.2 586.1 Q1017 591.3 1020.5 589.9 L1024 588.5" fill="none" stroke="#5f7688" stroke-width="3.3" stroke-linecap="round" stroke-linejoin="round"/>
<path d="M994 583 Q999.5 587.2 1003.2 583.5 Q1006.9 579.9 1008.9 585.5 Q1010.8 591.1 1014.9 587.1 Q1019 583.2 1021.5 585.8 L1024 588.5" fill="none" stroke="#5f7688" stroke-width="3.3" stroke-linecap="round" stroke-linejoin="round"/>
<path d="M1024 588.5 Q1032 586.2 1032.4 591.7 Q1032.8 597.2 1037.5 594.8 Q1042.2 592.4 1042.7 597.6 Q1043.2 602.8 1047.1 601.9 L1051 601" fill="none" stroke="#5f7688" stroke-width="3.3" stroke-linecap="round" stroke-linejoin="round"/>
<path d="M1024 588.5 Q1026.9 595.7 1031.9 592.7 Q1036.8 589.7 1037.6 594.5 Q1038.3 599.4 1043.2 596.7 Q1048 594.1 1049.5 597.5 L1051 601" fill="none" stroke="#5f7688" stroke-width="3.3" stroke-linecap="round" stroke-linejoin="round"/>
<path d="M1056.5 571 Q1062.2 576.5 1056 578.6 Q1049.8 580.8 1054.3 583.9 Q1058.8 587.1 1053.9 588.6 Q1049 590.1 1052.4 593.5 Q1055.9 596.9 1053.4 598.9 L1051 601" fill="none" stroke="#5f7688" stroke-width="3.3" stroke-linecap="round" stroke-linejoin="round"/>
<path d="M1056.5 571 Q1050 575.7 1055.9 578.6 Q1061.8 581.5 1056.3 583.4 Q1050.8 585.3 1054.5 588.7 Q1058.1 592.1 1053.4 593.7 Q1048.7 595.3 1049.8 598.1 L1051 601" fill="none" stroke="#5f7688" stroke-width="3.3" stroke-linecap="round" stroke-linejoin="round"/>
<path d="M1062 550 Q1067.7 554 1062.4 556.9 Q1057.1 559.8 1060.9 562.3 Q1064.6 564.9 1059.4 564.7 Q1054.2 564.6 1055.4 567.8 L1056.5 571" fill="none" stroke="#5f7688" stroke-width="3.3" stroke-linecap="round" stroke-linejoin="round"/>
<path d="M1062 550 Q1057.5 555.1 1063.3 556.8 Q1069.1 558.5 1063.7 560 Q1058.3 561.5 1061 565.6 Q1063.7 569.7 1060.1 570.3 L1056.5 571" fill="none" stroke="#5f7688" stroke-width="3.3" stroke-linecap="round" stroke-linejoin="round"/>
<path d="M974.5 608 Q981.2 606.7 981 611.1 Q980.7 615.6 985.1 613.5 Q989.5 611.4 989.9 615.6 Q990.3 619.8 993.7 616.9 Q997.1 614 998.2 618.3 Q999.3 622.6 1002.2 621.5 L1005 620.5" fill="none" stroke="#5f7688" stroke-width="3.3" stroke-linecap="round" stroke-linejoin="round"/>
<path d="M974.5 608 Q975.9 614.2 980.2 612.2 Q984.5 610.2 984.2 614.8 Q983.9 619.3 988.1 616.5 Q992.2 613.7 993.4 617.8 Q994.6 621.9 998 618.9 Q1001.5 615.9 1003.2 618.2 L1005 620.5" fill="none" stroke="#5f7688" stroke-width="3.3" stroke-linecap="round" stroke-linejoin="round"/>
<path d="M1005 620.5 Q1014.4 619.2 1014.6 625.2 Q1014.9 631.2 1020.5 629.7 Q1026.1 628.1 1028.1 631.5 L1030 635" fill="none" stroke="#5f7688" stroke-width="3.3" stroke-linecap="round" stroke-linejoin="round"/>
<path d="M882 583 Q889.7 583.1 889.5 587.4 Q889.4 591.8 894.9 592.1 Q900.4 592.3 900.2 596.2 L900 600" fill="none" stroke="#5f7688" stroke-width="3.3" stroke-linecap="round" stroke-linejoin="round"/>
<path d="M882 583 Q885.1 589.4 890.4 588.7 Q895.6 587.9 893.9 592.7 Q892.2 597.5 896.1 598.7 L900 600" fill="none" stroke="#5f7688" stroke-width="3.3" stroke-linecap="round" stroke-linejoin="round"/>
<path d="M900 600 Q904.5 596.8 906.7 600 Q908.9 603.1 911.1 599.7 Q913.4 596.3 915.6 600.1 Q917.8 604 920 599.5 Q922.3 594.9 923.9 599.8 Q925.6 604.6 928.9 600.8 Q932.2 597.1 933.3 601.4 Q934.4 605.8 937.6 602.5 Q940.8 599.2 942.4 601.9 L944 604.5" fill="none" stroke="#5f7688" stroke-width="3.3" stroke-linecap="round" stroke-linejoin="round"/>
<path d="M900 600 Q904.4 603.2 906.7 600.1 Q908.9 597 911.1 600.4 Q913.3 603.9 915.6 600 Q917.8 596.2 920 600.7 Q922.2 605.3 925 600.9 Q927.7 596.5 928.8 601.2 Q929.8 606 933 602.6 Q936.2 599.3 937.4 603.5 Q938.5 607.8 941.3 606.1 L944 604.5" fill="none" stroke="#5f7688" stroke-width="3.3" stroke-linecap="round" stroke-linejoin="round"/>
<path d="M900 600 Q906.9 604 902.5 607.7 Q898.2 611.5 903.3 613.7 Q908.5 615.9 906.7 618.9 L905 622" fill="none" stroke="#5f7688" stroke-width="3.3" stroke-linecap="round" stroke-linejoin="round"/>
<path d="M900 600 Q896.6 606.8 902.5 608.5 Q908.5 610.2 904.2 613.6 Q899.9 617 902.4 619.5 L905 622" fill="none" stroke="#5f7688" stroke-width="3.3" stroke-linecap="round" stroke-linejoin="round"/>
<path d="M905 622 Q911.6 622.4 908.7 627 Q905.9 631.7 911.6 631.4 Q917.4 631.1 913.4 633.8 Q909.5 636.4 911.7 638.2 L914 640" fill="none" stroke="#5f7688" stroke-width="3.3" stroke-linecap="round" stroke-linejoin="round"/>
<path d="M905 622 Q903.8 628 909.4 626.5 Q915 625.1 911.5 628.7 Q908 632.4 912.6 633.9 Q917.2 635.3 915.6 637.7 L914 640" fill="none" stroke="#5f7688" stroke-width="3.3" stroke-linecap="round" stroke-linejoin="round"/>
<path d="M866 615 Q872.1 612.5 874.3 616.7 Q876.6 620.9 880.1 617.5 Q883.6 614.2 885.6 617.8 Q887.6 621.4 891.3 618.6 Q894.9 615.9 896.7 620.2 Q898.5 624.6 901.7 623.3 L905 622" fill="none" stroke="#5f7688" stroke-width="3.3" stroke-linecap="round" stroke-linejoin="round"/>
<path d="M866 615 Q871.2 618.9 874.5 615.4 Q877.9 611.9 880 616 Q882.1 620.1 885.6 617.7 Q889.2 615.3 891.1 619.3 Q893 623.3 896.7 620.1 Q900.4 617 902.7 619.5 L905 622" fill="none" stroke="#5f7688" stroke-width="3.3" stroke-linecap="round" stroke-linejoin="round"/>
<path d="M939 574.5 Q944.4 571.6 945.8 575.8 Q947.3 580 950.4 576.7 Q953.5 573.5 954.8 578.3 Q956 583.1 959.4 578.9 Q962.8 574.7 964.3 578.8 Q965.9 582.9 968.8 579.2 Q971.6 575.6 973.3 580 Q975.1 584.5 977.8 581.4 Q980.6 578.4 982.3 582.6 Q984.1 586.8 987.1 582.2 Q990.1 577.5 992 580.3 L994 583" fill="none" stroke="#5f7688" stroke-width="3.3" stroke-linecap="round" stroke-linejoin="round"/>
<path d="M939 574.5 Q942.7 579.2 945.8 575.9 Q949 572.6 950.4 576.8 Q951.8 580.9 955.1 577 Q958.4 573.1 959.6 578.2 Q960.8 583.3 963.8 580 Q966.7 576.7 968.5 580.9 Q970.3 585.1 973.2 581.2 Q976 577.3 977.9 580.9 Q979.8 584.5 982.6 580.8 Q985.4 577.1 987.1 582.2 Q988.7 587.4 991.4 585.2 L994 583" fill="none" stroke="#5f7688" stroke-width="3.3" stroke-linecap="round" stroke-linejoin="round"/>
<path d="M921 562 Q926.1 556.7 929.4 560.6 Q932.8 564.4 935.2 560.8 Q937.6 557.2 940.9 560.8 Q944.2 564.4 946.6 560.2 Q949 556 951.9 560 Q954.8 564.1 957.8 560 Q960.9 556 963.6 559.5 Q966.3 563 969.3 559.2 Q972.3 555.4 975 559.5 Q977.6 563.5 980.6 561.8 L983.5 560" fill="none" stroke="#5f7688" stroke-width="3.3" stroke-linecap="round" stroke-linejoin="round"/>
<path d="M921 562 Q927.2 566.1 929.6 561.7 Q931.9 557.4 935.2 560.4 Q938.4 563.4 940.8 559.3 Q943.1 555.1 946.4 558.8 Q949.7 562.4 952.5 558.1 Q955.3 553.8 957.9 558 Q960.6 562.3 963.6 559 Q966.6 555.7 969.3 559.7 Q971.9 563.7 974.9 559.9 Q978 556 980.7 558 L983.5 560" fill="none" stroke="#5f7688" stroke-width="3.3" stroke-linecap="round" stroke-linejoin="round"/>
<path d="M983.5 560 Q991 562.8 994.5 559 Q998 555.3 1001.3 560.2 Q1004.5 565.2 1009.1 561.1 Q1013.7 557.1 1016.9 560 L1020 563" fill="none" stroke="#5f7688" stroke-width="3.3" stroke-linecap="round" stroke-linejoin="round"/>
<path d="M1020 563 Q1025.4 556.7 1030.7 560.3 Q1036.1 563.8 1037.5 557.6 Q1039 551.4 1044.2 555.1 Q1049.4 558.7 1051.4 552.9 Q1053.3 547 1057.7 548.5 L1062 550" fill="none" stroke="#5f7688" stroke-width="3.3" stroke-linecap="round" stroke-linejoin="round"/>
<path d="M1062 550 Q1064.8 557.5 1070.3 554.5 Q1075.8 551.6 1076.8 556.3 Q1077.9 561 1081.4 560.5 L1085 560" fill="none" stroke="#5f7688" stroke-width="3.3" stroke-linecap="round" stroke-linejoin="round"/>
<path d="M1085 560 Q1091 554.1 1094.9 558 Q1098.7 561.9 1101.5 557.5 Q1104.2 553.2 1107.9 555.1 L1111.5 557" fill="none" stroke="#5f7688" stroke-width="3.3" stroke-linecap="round" stroke-linejoin="round"/>
<path d="M855.5 592 Q860.9 588.2 863.1 592.6 Q865.3 597 868.1 593.4 Q870.9 589.9 873.1 594.2 Q875.4 598.4 878.2 594 Q881.1 589.7 882.6 594.2 Q884 598.8 888.1 595.7 Q892.1 592.5 892.9 597.2 Q893.7 601.8 896.9 600.9 L900 600" fill="none" stroke="#5f7688" stroke-width="3.3" stroke-linecap="round" stroke-linejoin="round"/>
<path d="M855.5 592 Q860.3 596.4 863.1 592.3 Q865.9 588.3 868.2 592.1 Q870.5 595.9 873.3 592 Q876.1 588.1 878.3 592.7 Q880.5 597.4 883.9 594.2 Q887.3 591 888 595.8 Q888.7 600.7 892.7 597.7 Q896.7 594.8 898.3 597.4 L900 600" fill="none" stroke="#5f7688" stroke-width="3.3" stroke-linecap="round" stroke-linejoin="round"/>
<path d="M870 641 Q877.9 645.5 881 640.3 Q884.2 635.1 888.3 639.4 Q892.5 643.8 896 639.5 Q899.5 635.1 903 639.8 Q906.4 644.6 910.2 642.3 L914 640" fill="none" stroke="#5f7688" stroke-width="3.3" stroke-linecap="round" stroke-linejoin="round"/>
<path d="M974.5 608 Q982 612.9 985 607.8 Q988 602.7 991.9 606.7 Q995.8 610.7 998.8 605.4 Q1001.8 600.2 1005.7 604.6 Q1009.7 609 1012.7 604.6 Q1015.7 600.1 1019.8 604.8 Q1023.9 609.4 1026.7 603.8 Q1029.6 598.2 1033.6 602.5 Q1037.6 606.8 1040.5 601.4 Q1043.4 596.1 1047.2 598.5 L1051 601" fill="none" stroke="#5f7688" stroke-width="3.3" stroke-linecap="round" stroke-linejoin="round"/>
<path d="M953 622 Q954.5 616.3 958.9 617.7 Q963.2 619 963.4 614.6 Q963.6 610.1 967.9 612 Q972.2 613.9 973.3 611 L974.5 608" fill="none" stroke="#5f7688" stroke-width="3.3" stroke-linecap="round" stroke-linejoin="round"/>
<path d="M953 622 Q959.2 620.8 958.9 616.2 Q958.5 611.7 962.9 613.7 Q967.2 615.7 967.5 611.3 Q967.8 607 971.1 607.5 L974.5 608" fill="none" stroke="#5f7688" stroke-width="3.3" stroke-linecap="round" stroke-linejoin="round"/>
<path d="M1020 563 Q1025.7 569.7 1020.5 572.9 Q1015.2 576 1020.4 578.6 Q1025.5 581.2 1024.8 584.8 L1024 588.5" fill="none" stroke="#5f7688" stroke-width="3.3" stroke-linecap="round" stroke-linejoin="round"/>
<path d="M1005 620.5 Q1001.3 627.3 996.8 624.1 Q992.3 621 990.9 625.4 Q989.4 629.9 984.7 626.4 Q979.9 623 979.5 629.3 Q979.1 635.6 974 631.6 Q968.9 627.6 967.9 632.7 Q966.9 637.8 963.5 637.4 L960 637" fill="none" stroke="#5f7688" stroke-width="3.3" stroke-linecap="round" stroke-linejoin="round"/>
<path d="M840 630 Q846.3 632.7 848.8 628.3 Q851.3 624 854.8 628.4 Q858.3 632.8 860.7 627.8 Q863.2 622.9 866.6 627 Q870.1 631.1 872.4 626.6 Q874.8 622 878.4 625.5 Q882.1 629.1 884.3 624.8 Q886.6 620.6 890.4 624.7 Q894.1 628.7 896.1 623.2 Q898.2 617.6 901.6 619.8 L905 622" fill="none" stroke="#5f7688" stroke-width="3.3" stroke-linecap="round" stroke-linejoin="round"/>
<path d="M914 640 Q919.7 636 922.6 639.6 Q925.6 643.2 928.4 639 Q931.2 634.7 934.2 639 Q937.2 643.2 939.7 638.9 Q942.2 634.6 945.7 639.1 Q949.3 643.6 951.5 638.8 Q953.8 634.1 956.9 635.5 L960 637" fill="none" stroke="#5f7688" stroke-width="3.3" stroke-linecap="round" stroke-linejoin="round"/>
<path d="M914 640 Q919.9 643.8 922.7 640 Q925.4 636.2 928.4 640.3 Q931.4 644.4 934.2 640 Q937 635.7 940.2 639.6 Q943.4 643.5 945.6 638.3 Q947.8 633.1 951.3 637.2 Q954.8 641.3 957.4 639.2 L960 637" fill="none" stroke="#5f7688" stroke-width="3.3" stroke-linecap="round" stroke-linejoin="round"/>
<path d="M953 622 Q959.3 617.8 962.8 621.9 Q966.2 626 969.3 621.5 Q972.3 617 975.8 621.2 Q979.2 625.5 982.3 620.5 Q985.4 615.5 988.7 620.2 Q992.1 625 995.2 620.1 Q998.4 615.3 1001.7 617.9 L1005 620.5" fill="none" stroke="#5f7688" stroke-width="3.3" stroke-linecap="round" stroke-linejoin="round"/>
<path d="M1024 588.5 Q1033.1 590.4 1034.6 584.9 Q1036.2 579.5 1041.7 581.2 Q1047.3 582.9 1047.5 577.7 Q1047.7 572.4 1052.1 571.7 L1056.5 571" fill="none" stroke="#5f7688" stroke-width="3.3" stroke-linecap="round" stroke-linejoin="round"/>
<path d="M1051 601 Q1042 603.1 1044.2 608.6 Q1046.4 614 1040.7 614.2 Q1035 614.5 1037.4 619.4 Q1039.8 624.3 1033.2 625.5 Q1026.6 626.6 1028.3 630.8 L1030 635" fill="none" stroke="#5f7688" stroke-width="3.3" stroke-linecap="round" stroke-linejoin="round"/>
<path d="M880 600 Q886.1 597.5 887.6 601.6 Q889.2 605.7 892.7 602.6 Q896.3 599.5 897.5 604.5 Q898.8 609.5 902.7 605.9 Q906.5 602.2 907.5 607.3 Q908.5 612.4 912.5 608.7 Q916.4 605 917.7 609.4 Q918.9 613.7 922 612.9 L925 612" fill="none" stroke="#5f7688" stroke-width="3.3" stroke-linecap="round" stroke-linejoin="round"/>
<path d="M880 600 Q884 604.9 887.5 602 Q891 599.2 892.5 603.5 Q893.9 607.7 897.7 603.9 Q901.5 600.1 902.6 605.2 Q903.7 610.2 907.7 606.6 Q911.7 603 912.7 608.1 Q913.7 613.2 917.4 610.3 Q921.1 607.4 923.1 609.7 L925 612" fill="none" stroke="#5f7688" stroke-width="3.3" stroke-linecap="round" stroke-linejoin="round"/>
<path d="M983.5 560 Q977.9 566.7 973.5 562 Q969.2 557.4 966.8 562.9 Q964.4 568.4 959.8 565.2 Q955.2 562.1 954.3 567.2 Q953.5 572.2 947.8 569.5 Q942.1 566.8 940.6 570.6 L939 574.5" fill="none" stroke="#5f7688" stroke-width="3.3" stroke-linecap="round" stroke-linejoin="round"/>
</g>
<path d="M726.7 656.5 Q726.7 658.5 728.6 659.9 Q730.5 661.4 726.7 665.2 Q722.9 669.1 726.7 673 Q730.5 676.9 726.7 680.8 Q722.9 684.6 726.7 688.5 Q730.5 692.4 726.7 696.2 Q722.9 700.1 725 702.1 L727.2 704" fill="none" stroke="#6e87a9" stroke-width="2.4" stroke-linecap="round" stroke-linejoin="round"/><path d="M726.7 652.5 l3.8 7.6 l-7.6 0 Z" fill="#6e87a9"/>
<path d="M842.2 652 Q842.2 654 844.1 655.4 Q846 656.9 842.2 660.7 Q838.4 664.6 842.2 668.4 Q846 672.3 842.2 676.1 Q838.4 680 842.2 683.9 Q846 687.7 842.2 691.6 Q838.4 695.4 842.2 699.3 Q846 703.1 843.9 705.1 L841.7 707" fill="none" stroke="#6e87a9" stroke-width="2.4" stroke-linecap="round" stroke-linejoin="round"/><path d="M842.2 648 l3.8 7.6 l-7.6 0 Z" fill="#6e87a9"/>
<path d="M970.6 653.5 Q970.6 655.5 972.5 657 Q974.4 658.5 970.6 662.6 Q966.8 666.6 970.6 670.7 Q974.4 674.7 970.6 678.8 Q966.8 682.8 970.6 686.8 Q974.4 690.9 970.6 694.9 Q966.8 699 968.9 701 L971.1 703" fill="none" stroke="#6e87a9" stroke-width="2.4" stroke-linecap="round" stroke-linejoin="round"/><path d="M970.6 649.5 l3.8 7.6 l-7.6 0 Z" fill="#6e87a9"/>
<path d="M1059.7 613 Q1059.7 615 1061.6 616.5 Q1063.5 618 1059.7 621.9 Q1055.9 625.9 1059.7 629.9 Q1063.5 633.8 1059.7 637.8 Q1055.9 641.8 1059.7 645.7 Q1063.5 649.7 1059.7 653.6 Q1055.9 657.6 1059.7 661.6 Q1063.5 665.5 1061.4 667.5 L1059.2 669.5" fill="none" stroke="#6e87a9" stroke-width="2.4" stroke-linecap="round" stroke-linejoin="round"/><path d="M1059.7 609 l3.8 7.6 l-7.6 0 Z" fill="#6e87a9"/>
<path d="M1108.5 569 Q1108.5 571 1110.4 572.5 Q1112.3 574 1108.5 578.1 Q1104.7 582.1 1108.5 586.2 Q1112.3 590.2 1108.5 594.2 Q1104.7 598.3 1108.5 602.3 Q1112.3 606.4 1108.5 610.4 Q1104.7 614.5 1106.8 616.5 L1109 618.5" fill="none" stroke="#6e87a9" stroke-width="2.4" stroke-linecap="round" stroke-linejoin="round"/><path d="M1108.5 565 l3.8 7.6 l-7.6 0 Z" fill="#6e87a9"/>
</svg>
<div class="t" style="left:378.6px;top:125.1px;font-size:28px;font-weight:700;color:#5a3b2a;letter-spacing:-0.344px;">Healthy skin without serum or moisturiser applied</div>
<div class="t" style="left:176.2px;top:273.6px;font-size:23.8px;font-weight:400;color:#786356;letter-spacing:1.146px;">Hydration is lost by</div>
<div class="t" style="left:162.0px;top:308.6px;font-size:23.8px;font-weight:400;color:#786356;letter-spacing:1.195px;">perspiration without a</div>
<div class="t" style="left:149.4px;top:343.7px;font-size:23.8px;font-weight:400;color:#786356;transform:scaleX(1.1137);">moisture-locking barrier</div>
<div class="t" style="left:85.2px;top:467.8px;font-size:27.6px;font-weight:400;color:#604232;letter-spacing:0.478px;">Application of other Hyaluronic Acid</div>
<div class="t" style="left:825.4px;top:467.1px;font-size:28px;font-weight:700;color:#5a3b2a;letter-spacing:-0.441px;">Application of Sacran</div>
<div class="t" style="left:940.7px;top:187.5px;font-size:30px;font-weight:400;color:#2e2a2a;letter-spacing:-0.564px;">Stratum corneum</div>
<div class="t" style="left:940.7px;top:252.4px;font-size:30px;font-weight:400;color:#2e2a2a;transform:scaleX(0.9395);">Epidermis</div>
<div class="t" style="left:841.9px;top:383.0px;font-size:30.5px;font-weight:700;color:#141010;transform:scaleX(0.8843);">Normal skin</div>
<div class="t" style="left:1106.7px;top:714.2px;font-size:30.5px;font-weight:700;color:#141010;transform:scaleX(0.9039);">Activated</div>
<div class="t" style="left:1106.7px;top:746.1px;font-size:30.5px;font-weight:700;color:#141010;transform:scaleX(0.8373);">skin</div>
<div class="t" style="left:133.0px;top:807.5px;font-size:25.4px;font-weight:700;color:#5a3b2a;letter-spacing:0.038px;">Skin with Hyaluronic Acid applied</div>
<div class="t" style="left:133.0px;top:842.8px;font-size:25px;font-weight:400;color:#786356;letter-spacing:0.567px;">Moisture is retained only around the small</div>
<div class="t" style="left:133.0px;top:876.8px;font-size:25px;font-weight:400;color:#786356;letter-spacing:0.530px;">Hyaluronic Acid molecules.</div>
<div class="t" style="left:657.0px;top:807.5px;font-size:25.4px;font-weight:700;color:#5a3b2a;letter-spacing:0.079px;">Skin activated by Sacran</div>
<div class="t" style="left:657.0px;top:842.8px;font-size:25px;font-weight:400;color:#786356;letter-spacing:0.518px;">The mesh made by Sacran, which is larger than the</div>
<div class="t" style="left:657.0px;top:877.8px;font-size:25px;font-weight:400;color:#786356;letter-spacing:0.601px;">cells, covers the skin’s surface, allowing the water to be</div>
<div class="t" style="left:657.0px;top:912.8px;font-size:25px;font-weight:400;color:#786356;letter-spacing:0.646px;">completely retained.</div>
</body></html>
